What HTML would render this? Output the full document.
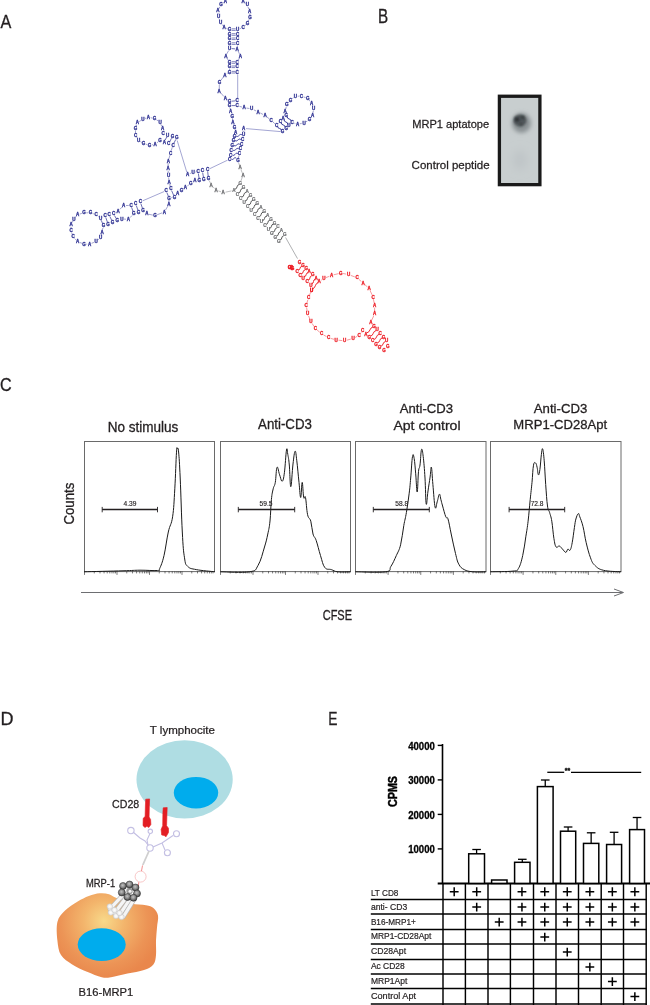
<!DOCTYPE html><html><head><meta charset="utf-8"><style>html,body{margin:0;padding:0;background:#fff;}svg{display:block;will-change:transform;font-family:"Liberation Sans",sans-serif;}</style></head><body><svg width="650" height="1005" viewBox="0 0 650 1005"><text transform="translate(0.60,27.8) scale(0.8538,1)" font-size="19" font-weight="normal" fill="#231f20" stroke="#231f20" stroke-width="0.3">A</text>
<text transform="translate(378.02,22.8) scale(0.7818,1)" font-size="19.5" font-weight="normal" fill="#231f20" stroke="#231f20" stroke-width="0.3">B</text>
<text transform="translate(0.05,390.5) scale(0.8500,1)" font-size="19" font-weight="normal" fill="#231f20" stroke="#231f20" stroke-width="0.3">C</text>
<text transform="translate(0.55,724.9) scale(0.9500,1)" font-size="19" font-weight="normal" fill="#231f20" stroke="#231f20" stroke-width="0.3">D</text>
<text transform="translate(328.17,724.9) scale(0.7273,1)" font-size="19" font-weight="normal" fill="#231f20" stroke="#231f20" stroke-width="0.3">E</text>
<defs><radialGradient id="spot" cx="0.5" cy="0.5" r="0.5"><stop offset="0" stop-color="#2a2c2e"/><stop offset="0.45" stop-color="#3a3d40"/><stop offset="0.75" stop-color="#8c9194"/><stop offset="1" stop-color="#c4c9cb" stop-opacity="0"/></radialGradient></defs>
<defs><filter id="blur2" x="-50%" y="-50%" width="200%" height="200%"><feGaussianBlur stdDeviation="2.2"/></filter><filter id="blur1" x="-50%" y="-50%" width="200%" height="200%"><feGaussianBlur stdDeviation="1.2"/></filter><filter id="blur4" x="-50%" y="-50%" width="200%" height="200%"><feGaussianBlur stdDeviation="4"/></filter></defs>
<rect x="499.4" y="96.25" width="40.5" height="88.4" fill="#c8cecf" stroke="#1a1a1a" stroke-width="3.3"/>
<ellipse cx="520" cy="160" rx="7" ry="10" fill="#bfc5c7" filter="url(#blur4)"/>
<ellipse cx="521.5" cy="123" rx="9.5" ry="10" fill="#899093" filter="url(#blur2)"/>
<ellipse cx="520" cy="120.5" rx="6.5" ry="6" fill="#51575a" filter="url(#blur1)"/>
<circle cx="517" cy="119.5" r="2.3" fill="#2e3335" filter="url(#blur1)"/>
<circle cx="522.5" cy="117.5" r="1.8" fill="#3a3f41" filter="url(#blur1)"/>
<circle cx="521" cy="124" r="1.8" fill="#43484b" filter="url(#blur1)"/>
<text transform="translate(412.20,128.3) scale(1.0079,1)" font-size="11" font-weight="normal" fill="#231f20" stroke="#231f20" stroke-width="0.25">MRP1 aptatope</text>
<text transform="translate(411.60,168.9) scale(1.0480,1)" font-size="11" font-weight="normal" fill="#231f20" stroke="#231f20" stroke-width="0.25">Control peptide</text>
<rect x="84.5" y="441.5" width="130.0" height="130.10000000000002" fill="none" stroke="#6a6a6a" stroke-width="1"/>
<line x1="84.50" y1="571.1" x2="84.50" y2="574.9" stroke="#444" stroke-width="0.7"/>
<line x1="94.28" y1="571.1" x2="94.28" y2="573.4" stroke="#444" stroke-width="0.7"/>
<line x1="100.01" y1="571.1" x2="100.01" y2="573.4" stroke="#444" stroke-width="0.7"/>
<line x1="104.07" y1="571.1" x2="104.07" y2="573.4" stroke="#444" stroke-width="0.7"/>
<line x1="107.22" y1="571.1" x2="107.22" y2="573.4" stroke="#444" stroke-width="0.7"/>
<line x1="109.79" y1="571.1" x2="109.79" y2="573.4" stroke="#444" stroke-width="0.7"/>
<line x1="111.97" y1="571.1" x2="111.97" y2="573.4" stroke="#444" stroke-width="0.7"/>
<line x1="113.85" y1="571.1" x2="113.85" y2="573.4" stroke="#444" stroke-width="0.7"/>
<line x1="115.51" y1="571.1" x2="115.51" y2="573.4" stroke="#444" stroke-width="0.7"/>
<line x1="117.00" y1="571.1" x2="117.00" y2="574.9" stroke="#444" stroke-width="0.7"/>
<line x1="126.78" y1="571.1" x2="126.78" y2="573.4" stroke="#444" stroke-width="0.7"/>
<line x1="132.51" y1="571.1" x2="132.51" y2="573.4" stroke="#444" stroke-width="0.7"/>
<line x1="136.57" y1="571.1" x2="136.57" y2="573.4" stroke="#444" stroke-width="0.7"/>
<line x1="139.72" y1="571.1" x2="139.72" y2="573.4" stroke="#444" stroke-width="0.7"/>
<line x1="142.29" y1="571.1" x2="142.29" y2="573.4" stroke="#444" stroke-width="0.7"/>
<line x1="144.47" y1="571.1" x2="144.47" y2="573.4" stroke="#444" stroke-width="0.7"/>
<line x1="146.35" y1="571.1" x2="146.35" y2="573.4" stroke="#444" stroke-width="0.7"/>
<line x1="148.01" y1="571.1" x2="148.01" y2="573.4" stroke="#444" stroke-width="0.7"/>
<line x1="149.50" y1="571.1" x2="149.50" y2="574.9" stroke="#444" stroke-width="0.7"/>
<line x1="159.28" y1="571.1" x2="159.28" y2="573.4" stroke="#444" stroke-width="0.7"/>
<line x1="165.01" y1="571.1" x2="165.01" y2="573.4" stroke="#444" stroke-width="0.7"/>
<line x1="169.07" y1="571.1" x2="169.07" y2="573.4" stroke="#444" stroke-width="0.7"/>
<line x1="172.22" y1="571.1" x2="172.22" y2="573.4" stroke="#444" stroke-width="0.7"/>
<line x1="174.79" y1="571.1" x2="174.79" y2="573.4" stroke="#444" stroke-width="0.7"/>
<line x1="176.97" y1="571.1" x2="176.97" y2="573.4" stroke="#444" stroke-width="0.7"/>
<line x1="178.85" y1="571.1" x2="178.85" y2="573.4" stroke="#444" stroke-width="0.7"/>
<line x1="180.51" y1="571.1" x2="180.51" y2="573.4" stroke="#444" stroke-width="0.7"/>
<line x1="182.00" y1="571.1" x2="182.00" y2="574.9" stroke="#444" stroke-width="0.7"/>
<line x1="191.78" y1="571.1" x2="191.78" y2="573.4" stroke="#444" stroke-width="0.7"/>
<line x1="197.51" y1="571.1" x2="197.51" y2="573.4" stroke="#444" stroke-width="0.7"/>
<line x1="201.57" y1="571.1" x2="201.57" y2="573.4" stroke="#444" stroke-width="0.7"/>
<line x1="204.72" y1="571.1" x2="204.72" y2="573.4" stroke="#444" stroke-width="0.7"/>
<line x1="207.29" y1="571.1" x2="207.29" y2="573.4" stroke="#444" stroke-width="0.7"/>
<line x1="209.47" y1="571.1" x2="209.47" y2="573.4" stroke="#444" stroke-width="0.7"/>
<line x1="211.35" y1="571.1" x2="211.35" y2="573.4" stroke="#444" stroke-width="0.7"/>
<line x1="213.01" y1="571.1" x2="213.01" y2="573.4" stroke="#444" stroke-width="0.7"/>
<rect x="220.5" y="441.5" width="130.0" height="130.10000000000002" fill="none" stroke="#6a6a6a" stroke-width="1"/>
<line x1="220.50" y1="571.1" x2="220.50" y2="574.9" stroke="#444" stroke-width="0.7"/>
<line x1="230.28" y1="571.1" x2="230.28" y2="573.4" stroke="#444" stroke-width="0.7"/>
<line x1="236.01" y1="571.1" x2="236.01" y2="573.4" stroke="#444" stroke-width="0.7"/>
<line x1="240.07" y1="571.1" x2="240.07" y2="573.4" stroke="#444" stroke-width="0.7"/>
<line x1="243.22" y1="571.1" x2="243.22" y2="573.4" stroke="#444" stroke-width="0.7"/>
<line x1="245.79" y1="571.1" x2="245.79" y2="573.4" stroke="#444" stroke-width="0.7"/>
<line x1="247.97" y1="571.1" x2="247.97" y2="573.4" stroke="#444" stroke-width="0.7"/>
<line x1="249.85" y1="571.1" x2="249.85" y2="573.4" stroke="#444" stroke-width="0.7"/>
<line x1="251.51" y1="571.1" x2="251.51" y2="573.4" stroke="#444" stroke-width="0.7"/>
<line x1="253.00" y1="571.1" x2="253.00" y2="574.9" stroke="#444" stroke-width="0.7"/>
<line x1="262.78" y1="571.1" x2="262.78" y2="573.4" stroke="#444" stroke-width="0.7"/>
<line x1="268.51" y1="571.1" x2="268.51" y2="573.4" stroke="#444" stroke-width="0.7"/>
<line x1="272.57" y1="571.1" x2="272.57" y2="573.4" stroke="#444" stroke-width="0.7"/>
<line x1="275.72" y1="571.1" x2="275.72" y2="573.4" stroke="#444" stroke-width="0.7"/>
<line x1="278.29" y1="571.1" x2="278.29" y2="573.4" stroke="#444" stroke-width="0.7"/>
<line x1="280.47" y1="571.1" x2="280.47" y2="573.4" stroke="#444" stroke-width="0.7"/>
<line x1="282.35" y1="571.1" x2="282.35" y2="573.4" stroke="#444" stroke-width="0.7"/>
<line x1="284.01" y1="571.1" x2="284.01" y2="573.4" stroke="#444" stroke-width="0.7"/>
<line x1="285.50" y1="571.1" x2="285.50" y2="574.9" stroke="#444" stroke-width="0.7"/>
<line x1="295.28" y1="571.1" x2="295.28" y2="573.4" stroke="#444" stroke-width="0.7"/>
<line x1="301.01" y1="571.1" x2="301.01" y2="573.4" stroke="#444" stroke-width="0.7"/>
<line x1="305.07" y1="571.1" x2="305.07" y2="573.4" stroke="#444" stroke-width="0.7"/>
<line x1="308.22" y1="571.1" x2="308.22" y2="573.4" stroke="#444" stroke-width="0.7"/>
<line x1="310.79" y1="571.1" x2="310.79" y2="573.4" stroke="#444" stroke-width="0.7"/>
<line x1="312.97" y1="571.1" x2="312.97" y2="573.4" stroke="#444" stroke-width="0.7"/>
<line x1="314.85" y1="571.1" x2="314.85" y2="573.4" stroke="#444" stroke-width="0.7"/>
<line x1="316.51" y1="571.1" x2="316.51" y2="573.4" stroke="#444" stroke-width="0.7"/>
<line x1="318.00" y1="571.1" x2="318.00" y2="574.9" stroke="#444" stroke-width="0.7"/>
<line x1="327.78" y1="571.1" x2="327.78" y2="573.4" stroke="#444" stroke-width="0.7"/>
<line x1="333.51" y1="571.1" x2="333.51" y2="573.4" stroke="#444" stroke-width="0.7"/>
<line x1="337.57" y1="571.1" x2="337.57" y2="573.4" stroke="#444" stroke-width="0.7"/>
<line x1="340.72" y1="571.1" x2="340.72" y2="573.4" stroke="#444" stroke-width="0.7"/>
<line x1="343.29" y1="571.1" x2="343.29" y2="573.4" stroke="#444" stroke-width="0.7"/>
<line x1="345.47" y1="571.1" x2="345.47" y2="573.4" stroke="#444" stroke-width="0.7"/>
<line x1="347.35" y1="571.1" x2="347.35" y2="573.4" stroke="#444" stroke-width="0.7"/>
<line x1="349.01" y1="571.1" x2="349.01" y2="573.4" stroke="#444" stroke-width="0.7"/>
<rect x="355.5" y="441.5" width="130.5" height="130.10000000000002" fill="none" stroke="#6a6a6a" stroke-width="1"/>
<line x1="355.50" y1="571.1" x2="355.50" y2="574.9" stroke="#444" stroke-width="0.7"/>
<line x1="365.32" y1="571.1" x2="365.32" y2="573.4" stroke="#444" stroke-width="0.7"/>
<line x1="371.07" y1="571.1" x2="371.07" y2="573.4" stroke="#444" stroke-width="0.7"/>
<line x1="375.14" y1="571.1" x2="375.14" y2="573.4" stroke="#444" stroke-width="0.7"/>
<line x1="378.30" y1="571.1" x2="378.30" y2="573.4" stroke="#444" stroke-width="0.7"/>
<line x1="380.89" y1="571.1" x2="380.89" y2="573.4" stroke="#444" stroke-width="0.7"/>
<line x1="383.07" y1="571.1" x2="383.07" y2="573.4" stroke="#444" stroke-width="0.7"/>
<line x1="384.96" y1="571.1" x2="384.96" y2="573.4" stroke="#444" stroke-width="0.7"/>
<line x1="386.63" y1="571.1" x2="386.63" y2="573.4" stroke="#444" stroke-width="0.7"/>
<line x1="388.12" y1="571.1" x2="388.12" y2="574.9" stroke="#444" stroke-width="0.7"/>
<line x1="397.95" y1="571.1" x2="397.95" y2="573.4" stroke="#444" stroke-width="0.7"/>
<line x1="403.69" y1="571.1" x2="403.69" y2="573.4" stroke="#444" stroke-width="0.7"/>
<line x1="407.77" y1="571.1" x2="407.77" y2="573.4" stroke="#444" stroke-width="0.7"/>
<line x1="410.93" y1="571.1" x2="410.93" y2="573.4" stroke="#444" stroke-width="0.7"/>
<line x1="413.51" y1="571.1" x2="413.51" y2="573.4" stroke="#444" stroke-width="0.7"/>
<line x1="415.70" y1="571.1" x2="415.70" y2="573.4" stroke="#444" stroke-width="0.7"/>
<line x1="417.59" y1="571.1" x2="417.59" y2="573.4" stroke="#444" stroke-width="0.7"/>
<line x1="419.26" y1="571.1" x2="419.26" y2="573.4" stroke="#444" stroke-width="0.7"/>
<line x1="420.75" y1="571.1" x2="420.75" y2="574.9" stroke="#444" stroke-width="0.7"/>
<line x1="430.57" y1="571.1" x2="430.57" y2="573.4" stroke="#444" stroke-width="0.7"/>
<line x1="436.32" y1="571.1" x2="436.32" y2="573.4" stroke="#444" stroke-width="0.7"/>
<line x1="440.39" y1="571.1" x2="440.39" y2="573.4" stroke="#444" stroke-width="0.7"/>
<line x1="443.55" y1="571.1" x2="443.55" y2="573.4" stroke="#444" stroke-width="0.7"/>
<line x1="446.14" y1="571.1" x2="446.14" y2="573.4" stroke="#444" stroke-width="0.7"/>
<line x1="448.32" y1="571.1" x2="448.32" y2="573.4" stroke="#444" stroke-width="0.7"/>
<line x1="450.21" y1="571.1" x2="450.21" y2="573.4" stroke="#444" stroke-width="0.7"/>
<line x1="451.88" y1="571.1" x2="451.88" y2="573.4" stroke="#444" stroke-width="0.7"/>
<line x1="453.38" y1="571.1" x2="453.38" y2="574.9" stroke="#444" stroke-width="0.7"/>
<line x1="463.20" y1="571.1" x2="463.20" y2="573.4" stroke="#444" stroke-width="0.7"/>
<line x1="468.94" y1="571.1" x2="468.94" y2="573.4" stroke="#444" stroke-width="0.7"/>
<line x1="473.02" y1="571.1" x2="473.02" y2="573.4" stroke="#444" stroke-width="0.7"/>
<line x1="476.18" y1="571.1" x2="476.18" y2="573.4" stroke="#444" stroke-width="0.7"/>
<line x1="478.76" y1="571.1" x2="478.76" y2="573.4" stroke="#444" stroke-width="0.7"/>
<line x1="480.95" y1="571.1" x2="480.95" y2="573.4" stroke="#444" stroke-width="0.7"/>
<line x1="482.84" y1="571.1" x2="482.84" y2="573.4" stroke="#444" stroke-width="0.7"/>
<line x1="484.51" y1="571.1" x2="484.51" y2="573.4" stroke="#444" stroke-width="0.7"/>
<rect x="490.5" y="441.5" width="130.5" height="130.10000000000002" fill="none" stroke="#6a6a6a" stroke-width="1"/>
<line x1="490.50" y1="571.1" x2="490.50" y2="574.9" stroke="#444" stroke-width="0.7"/>
<line x1="500.32" y1="571.1" x2="500.32" y2="573.4" stroke="#444" stroke-width="0.7"/>
<line x1="506.07" y1="571.1" x2="506.07" y2="573.4" stroke="#444" stroke-width="0.7"/>
<line x1="510.14" y1="571.1" x2="510.14" y2="573.4" stroke="#444" stroke-width="0.7"/>
<line x1="513.30" y1="571.1" x2="513.30" y2="573.4" stroke="#444" stroke-width="0.7"/>
<line x1="515.89" y1="571.1" x2="515.89" y2="573.4" stroke="#444" stroke-width="0.7"/>
<line x1="518.07" y1="571.1" x2="518.07" y2="573.4" stroke="#444" stroke-width="0.7"/>
<line x1="519.96" y1="571.1" x2="519.96" y2="573.4" stroke="#444" stroke-width="0.7"/>
<line x1="521.63" y1="571.1" x2="521.63" y2="573.4" stroke="#444" stroke-width="0.7"/>
<line x1="523.12" y1="571.1" x2="523.12" y2="574.9" stroke="#444" stroke-width="0.7"/>
<line x1="532.95" y1="571.1" x2="532.95" y2="573.4" stroke="#444" stroke-width="0.7"/>
<line x1="538.69" y1="571.1" x2="538.69" y2="573.4" stroke="#444" stroke-width="0.7"/>
<line x1="542.77" y1="571.1" x2="542.77" y2="573.4" stroke="#444" stroke-width="0.7"/>
<line x1="545.93" y1="571.1" x2="545.93" y2="573.4" stroke="#444" stroke-width="0.7"/>
<line x1="548.51" y1="571.1" x2="548.51" y2="573.4" stroke="#444" stroke-width="0.7"/>
<line x1="550.70" y1="571.1" x2="550.70" y2="573.4" stroke="#444" stroke-width="0.7"/>
<line x1="552.59" y1="571.1" x2="552.59" y2="573.4" stroke="#444" stroke-width="0.7"/>
<line x1="554.26" y1="571.1" x2="554.26" y2="573.4" stroke="#444" stroke-width="0.7"/>
<line x1="555.75" y1="571.1" x2="555.75" y2="574.9" stroke="#444" stroke-width="0.7"/>
<line x1="565.57" y1="571.1" x2="565.57" y2="573.4" stroke="#444" stroke-width="0.7"/>
<line x1="571.32" y1="571.1" x2="571.32" y2="573.4" stroke="#444" stroke-width="0.7"/>
<line x1="575.39" y1="571.1" x2="575.39" y2="573.4" stroke="#444" stroke-width="0.7"/>
<line x1="578.55" y1="571.1" x2="578.55" y2="573.4" stroke="#444" stroke-width="0.7"/>
<line x1="581.14" y1="571.1" x2="581.14" y2="573.4" stroke="#444" stroke-width="0.7"/>
<line x1="583.32" y1="571.1" x2="583.32" y2="573.4" stroke="#444" stroke-width="0.7"/>
<line x1="585.21" y1="571.1" x2="585.21" y2="573.4" stroke="#444" stroke-width="0.7"/>
<line x1="586.88" y1="571.1" x2="586.88" y2="573.4" stroke="#444" stroke-width="0.7"/>
<line x1="588.38" y1="571.1" x2="588.38" y2="574.9" stroke="#444" stroke-width="0.7"/>
<line x1="598.20" y1="571.1" x2="598.20" y2="573.4" stroke="#444" stroke-width="0.7"/>
<line x1="603.94" y1="571.1" x2="603.94" y2="573.4" stroke="#444" stroke-width="0.7"/>
<line x1="608.02" y1="571.1" x2="608.02" y2="573.4" stroke="#444" stroke-width="0.7"/>
<line x1="611.18" y1="571.1" x2="611.18" y2="573.4" stroke="#444" stroke-width="0.7"/>
<line x1="613.76" y1="571.1" x2="613.76" y2="573.4" stroke="#444" stroke-width="0.7"/>
<line x1="615.95" y1="571.1" x2="615.95" y2="573.4" stroke="#444" stroke-width="0.7"/>
<line x1="617.84" y1="571.1" x2="617.84" y2="573.4" stroke="#444" stroke-width="0.7"/>
<line x1="619.51" y1="571.1" x2="619.51" y2="573.4" stroke="#444" stroke-width="0.7"/>
<path d="M84,571.8 C91.80,571.60 111.80,571.12 123,570.8 C134.20,570.48 133.10,570.26 140,570.2 C146.90,570.14 153.56,570.84 157.5,570.5 C161.44,570.16 158.40,571.48 159.7,568.5 C161.00,565.52 162.28,562.90 164,555.6 C165.72,548.30 166.58,539.76 168.3,532 C170.02,524.24 171.30,525.44 172.6,516.8 C173.90,508.16 174.02,501.72 174.8,488.8 C175.58,475.88 175.98,460.16 176.5,452.2 C177.02,444.24 176.98,449.04 177.4,449 C177.82,448.96 178.04,446.20 178.6,452 C179.16,457.80 179.46,462.00 180.2,478 C180.94,494.00 181.44,516.04 182.3,532 C183.16,547.96 183.42,550.92 184.5,557.8 C185.58,564.68 185.34,564.04 187.7,566.4 C190.06,568.76 190.84,568.52 196.3,569.6 C201.76,570.68 211.26,571.36 215,571.8" fill="none" stroke="#1a1a1a" stroke-width="1.0" stroke-linejoin="round"/>
<path d="M220.4,571.8 C226.22,571.80 241.96,573.10 249.5,571.8 C257.04,570.50 255.10,570.26 258.1,565.3 C261.10,560.34 262.56,553.26 264.5,547 C266.44,540.74 266.70,539.20 267.8,534 C268.90,528.80 269.28,527.88 270,521 C270.72,514.12 270.76,506.04 271.4,499.6 C272.04,493.16 272.42,492.24 273.2,488.8 C273.98,485.36 274.54,486.70 275.3,482.4 C276.06,478.10 276.14,468.82 277,467.3 C277.86,465.78 278.56,472.00 279.6,474.8 C280.64,477.60 281.24,481.72 282.2,481.3 C283.16,480.88 283.54,478.96 284.4,472.7 C285.26,466.44 285.82,453.66 286.5,450 C287.18,446.34 287.24,451.40 287.8,454.4 C288.36,457.40 288.70,458.54 289.3,465 C289.90,471.46 290.06,486.90 290.8,486.7 C291.54,486.50 292.14,471.10 293,464 C293.86,456.90 294.34,451.84 295.1,451.2 C295.86,450.56 296.02,454.56 296.8,460.8 C297.58,467.04 298.22,475.06 299,482.4 C299.78,489.74 300.06,497.50 300.7,497.5 C301.34,497.50 301.60,482.40 302.2,482.4 C302.80,482.40 303.04,494.48 303.7,497.5 C304.36,500.52 304.72,494.06 305.5,497.5 C306.28,500.94 306.54,509.96 307.6,514.7 C308.66,519.44 309.72,517.34 310.8,521.2 C311.88,525.06 311.92,530.14 313,534 C314.08,537.86 314.70,536.18 316.2,540.5 C317.70,544.82 318.78,550.20 320.5,555.6 C322.22,561.00 322.64,564.70 324.8,567.5 C326.96,570.30 328.70,568.74 331.3,569.6 C333.90,570.46 333.92,571.36 337.8,571.8 C341.68,572.24 348.12,571.80 350.7,571.8" fill="none" stroke="#1a1a1a" stroke-width="1.0" stroke-linejoin="round"/>
<path d="M355.4,571.8 C361.42,571.80 378.40,572.88 385.5,571.8 C392.60,570.72 388.74,569.64 390.9,566.4 C393.06,563.16 394.36,559.92 396.3,555.6 C398.24,551.28 399.10,550.82 400.6,544.8 C402.10,538.78 402.64,531.96 403.8,525.5 C404.96,519.04 405.32,518.96 406.4,512.5 C407.48,506.04 408.34,500.10 409.2,493.2 C410.06,486.30 410.04,485.34 410.7,478 C411.36,470.66 411.80,460.36 412.5,456.5 C413.20,452.64 413.56,455.24 414.2,458.7 C414.84,462.16 415.10,467.14 415.7,473.8 C416.30,480.46 416.64,492.44 417.2,492 C417.76,491.56 417.94,477.00 418.5,471.6 C419.06,466.20 419.40,469.40 420,465 C420.60,460.60 420.86,451.30 421.5,449.6 C422.14,447.90 422.50,450.82 423.2,456.5 C423.90,462.18 424.40,468.50 425,478 C425.60,487.50 425.60,501.40 426.2,504 C426.80,506.60 427.22,496.40 428,491 C428.78,485.60 429.42,481.74 430.1,477 C430.78,472.26 430.84,465.80 431.4,467.3 C431.96,468.80 432.16,476.52 432.9,484.5 C433.64,492.48 434.24,503.74 435.1,507.2 C435.96,510.66 436.34,504.40 437.2,501.8 C438.06,499.20 438.66,494.64 439.4,494.2 C440.14,493.76 440.26,497.24 440.9,499.6 C441.54,501.96 441.62,502.56 442.6,506 C443.58,509.44 444.72,514.20 445.8,516.8 C446.88,519.40 446.92,515.56 448,519 C449.08,522.44 449.70,527.10 451.2,534 C452.70,540.90 453.98,547.46 455.5,553.5 C457.02,559.54 457.06,560.98 458.8,564.2 C460.54,567.42 461.40,568.08 464.2,569.6 C467.00,571.12 468.42,571.36 472.8,571.8 C477.18,572.24 483.44,571.80 486.1,571.8" fill="none" stroke="#1a1a1a" stroke-width="1.0" stroke-linejoin="round"/>
<path d="M490.4,571.8 C494.92,571.66 507.40,571.76 513,571.1 C518.60,570.44 516.46,571.60 518.4,568.5 C520.34,565.40 521.20,562.06 522.7,555.6 C524.20,549.14 524.82,543.08 525.9,536.2 C526.98,529.32 527.24,528.52 528.1,521.2 C528.96,513.88 529.42,507.36 530.2,499.6 C530.98,491.84 531.34,489.28 532,482.4 C532.66,475.52 532.78,469.08 533.5,465.2 C534.22,461.32 534.88,462.58 535.6,463 C536.32,463.42 536.54,464.94 537.1,467.3 C537.66,469.66 537.84,474.36 538.4,474.8 C538.96,475.24 539.30,473.58 539.9,469.5 C540.50,465.42 540.84,458.50 541.4,454.4 C541.96,450.30 542.14,447.72 542.7,449 C543.26,450.28 543.60,453.70 544.2,460.8 C544.80,467.90 545.04,475.46 545.7,484.5 C546.36,493.54 546.72,500.40 547.5,506 C548.28,511.60 548.74,509.46 549.6,512.5 C550.46,515.54 550.94,516.02 551.8,521.2 C552.66,526.38 553.04,533.24 553.9,538.4 C554.76,543.56 555.02,545.48 556.1,547 C557.18,548.52 558.02,545.58 559.3,546 C560.58,546.42 561.20,547.82 562.5,549.1 C563.80,550.38 564.72,552.40 565.8,552.4 C566.88,552.40 567.04,549.54 567.9,549.1 C568.76,548.66 569.24,551.48 570.1,550.2 C570.96,548.92 571.34,547.22 572.2,542.7 C573.06,538.18 573.66,532.34 574.4,527.6 C575.14,522.86 575.12,521.80 575.9,519 C576.68,516.20 577.52,514.04 578.3,513.6 C579.08,513.16 578.86,514.22 579.8,516.8 C580.74,519.38 581.72,521.32 583,526.5 C584.28,531.68 584.70,536.44 586.2,542.7 C587.70,548.96 588.78,553.28 590.5,557.8 C592.22,562.32 592.20,562.80 594.8,565.3 C597.40,567.80 598.24,569.00 603.5,570.3 C608.76,571.60 617.58,571.50 621.1,571.8" fill="none" stroke="#1a1a1a" stroke-width="1.0" stroke-linejoin="round"/>
<line x1="102.2" y1="509.6" x2="157.5" y2="509.6" stroke="#231f20" stroke-width="1.5"/>
<line x1="102.2" y1="506.90000000000003" x2="102.2" y2="512.3000000000001" stroke="#231f20" stroke-width="0.9"/>
<line x1="157.5" y1="506.90000000000003" x2="157.5" y2="512.3000000000001" stroke="#231f20" stroke-width="0.9"/>
<text x="130" y="505.7" font-size="6.6" text-anchor="middle" font-weight="normal" fill="#231f20" stroke="#231f20" stroke-width="0.15" >4.39</text>
<line x1="238.3" y1="509.6" x2="294.7" y2="509.6" stroke="#231f20" stroke-width="1.5"/>
<line x1="238.3" y1="506.90000000000003" x2="238.3" y2="512.3000000000001" stroke="#231f20" stroke-width="0.9"/>
<line x1="294.7" y1="506.90000000000003" x2="294.7" y2="512.3000000000001" stroke="#231f20" stroke-width="0.9"/>
<text x="266" y="505.7" font-size="6.6" text-anchor="middle" font-weight="normal" fill="#231f20" stroke="#231f20" stroke-width="0.15" >59.5</text>
<line x1="373.3" y1="509.6" x2="429.3" y2="509.6" stroke="#231f20" stroke-width="1.5"/>
<line x1="373.3" y1="506.90000000000003" x2="373.3" y2="512.3000000000001" stroke="#231f20" stroke-width="0.9"/>
<line x1="429.3" y1="506.90000000000003" x2="429.3" y2="512.3000000000001" stroke="#231f20" stroke-width="0.9"/>
<text x="401.7" y="505.7" font-size="6.6" text-anchor="middle" font-weight="normal" fill="#231f20" stroke="#231f20" stroke-width="0.15" >58.8</text>
<line x1="509.1" y1="509.6" x2="564.7" y2="509.6" stroke="#231f20" stroke-width="1.5"/>
<line x1="509.1" y1="506.90000000000003" x2="509.1" y2="512.3000000000001" stroke="#231f20" stroke-width="0.9"/>
<line x1="564.7" y1="506.90000000000003" x2="564.7" y2="512.3000000000001" stroke="#231f20" stroke-width="0.9"/>
<text x="537.1" y="505.7" font-size="6.6" text-anchor="middle" font-weight="normal" fill="#231f20" stroke="#231f20" stroke-width="0.15" >72.8</text>
<text transform="translate(107.63,432.2) scale(0.9681,1)" font-size="14" font-weight="normal" fill="#231f20" stroke="#231f20" stroke-width="0.3">No stimulus</text>
<text transform="translate(258.10,429.4) scale(0.9491,1)" font-size="14" font-weight="normal" fill="#231f20" stroke="#231f20" stroke-width="0.3">Anti-CD3</text>
<text transform="translate(399.80,412.8) scale(0.9727,1)" font-size="13.5" font-weight="normal" fill="#231f20" stroke="#231f20" stroke-width="0.3">Anti-CD3</text>
<text transform="translate(393.40,429.8) scale(1.0422,1)" font-size="13.5" font-weight="normal" fill="#231f20" stroke="#231f20" stroke-width="0.3">Apt control</text>
<text transform="translate(533.80,412.5) scale(0.9782,1)" font-size="13.5" font-weight="normal" fill="#231f20" stroke="#231f20" stroke-width="0.3">Anti-CD3</text>
<text transform="translate(513.33,428.8) scale(0.9698,1)" font-size="13.5" font-weight="normal" fill="#231f20" stroke="#231f20" stroke-width="0.3">MRP1-CD28Apt</text>
<text transform="translate(322.70,620) scale(0.7865,1)" font-size="14" font-weight="normal" fill="#231f20" stroke="#231f20" stroke-width="0.3">CFSE</text>
<text transform="translate(74.2,524.50) rotate(-90) scale(0.9432,1)" font-size="14" font-weight="normal" fill="#231f20" stroke="#231f20" stroke-width="0.3">Counts</text>
<line x1="81" y1="592.5" x2="623" y2="592.5" stroke="#6d6e71" stroke-width="1"/>
<path d="M614,589 L623.5,592.5 L614,596" fill="none" stroke="#6d6e71" stroke-width="1"/>
<defs><radialGradient id="org" cx="0.52" cy="0.3" r="0.7"><stop offset="0" stop-color="#f9dc8e"/><stop offset="0.45" stop-color="#f2b26a"/><stop offset="1" stop-color="#e9884a"/></radialGradient></defs>
<ellipse cx="184.6" cy="779.4" rx="48.1" ry="39.2" fill="#afdde3"/>
<ellipse cx="196" cy="792.7" rx="22.2" ry="15.8" fill="#00aced"/>
<text transform="translate(149.80,734.1) scale(0.9954,1)" font-size="11.6" font-weight="normal" fill="#231f20" stroke="#231f20" stroke-width="0.25">T lymphocite</text>
<text transform="translate(112.10,808.2) scale(0.9679,1)" font-size="11" font-weight="normal" fill="#231f20" stroke="#231f20" stroke-width="0.25">CD28</text>
<path d="M145.7,799.2 L149.6,798.9 L149.3,808 L149.1,817 L150.6,819.5 L150.9,824.5 L148.8,827.5 L146.9,826.3 L145,827.5 L143,825.7 L143.2,818.3 L145.1,816.5 L145.4,806 Z" fill="#e31e24" stroke="#e31e24" stroke-width="0.6" stroke-linejoin="round"/>
<path d="M163.2,807.8 L167.2,807.5 L166.9,816 L166.6,825.7 L168.5,828.2 L168.5,832.5 L166,836.8 L164.2,835.5 L161.7,835 L161.1,829.4 L162.7,825.7 L162.9,812.2 Z" fill="#e31e24" stroke="#e31e24" stroke-width="0.6" stroke-linejoin="round"/>
<g fill="none" stroke="#c3bfe3" stroke-width="1.1"><circle cx="130.9" cy="830.6" r="3.2"/><circle cx="150.3" cy="831.3" r="2.2"/><circle cx="176.5" cy="833.7" r="3"/><circle cx="167.4" cy="852.8" r="3"/><circle cx="150" cy="848" r="3.2"/><path d="M133,832 L140,838 L145,841 L148,845"/><path d="M150,833.5 L147,840 L148,845"/><path d="M153,847 L162,843 L173,835.5"/><path d="M162,843 L165,850"/></g>
<line x1="149" y1="851" x2="142.8" y2="865" stroke="#cfcfcf" stroke-width="1.8"/>
<circle cx="140.6" cy="876.6" r="5.5" fill="none" stroke="#f4a3a3" stroke-width="0.6"/><path d="M142.5,865.5 L141.5,871 M138.8,882.2 L138.3,886.8" stroke="#f08080" stroke-width="0.9"/>
<defs><radialGradient id="org2" gradientUnits="userSpaceOnUse" cx="104" cy="921" r="58"><stop offset="0" stop-color="#f8d98a"/><stop offset="0.35" stop-color="#f3b56c"/><stop offset="0.75" stop-color="#ec9456"/><stop offset="1" stop-color="#e9874c"/></radialGradient><radialGradient id="ball" cx="0.45" cy="0.4" r="0.6"><stop offset="0" stop-color="#c4c4c4"/><stop offset="0.55" stop-color="#858585"/><stop offset="1" stop-color="#3d3d3d"/></radialGradient><radialGradient id="wball" cx="0.5" cy="0.5" r="0.5"><stop offset="0" stop-color="#ffffff"/><stop offset="0.7" stop-color="#ececec"/><stop offset="1" stop-color="#cfcfcf"/></radialGradient></defs>
<path d="M57.4,922.0 C58.6,917.1 61.4,914.2 64.8,910.8 C68.2,907.4 73.7,904.1 77.7,901.6 C81.7,899.1 85.1,897.4 88.8,896.0 C92.5,894.6 96.4,893.6 99.8,893.3 C103.2,893.0 106.2,893.4 109.0,894.2 C111.8,895.0 112.8,896.5 116.5,898.0 C120.2,899.5 126.3,902.3 131.2,903.5 C136.1,904.7 142.3,904.5 146.0,905.3 C149.7,906.0 151.4,906.3 153.4,908.0 C155.4,909.7 157.4,912.2 158.0,915.5 C158.6,918.8 157.3,923.4 157.0,927.5 C156.7,931.6 156.2,935.8 156.0,940.4 C155.8,945.0 156.4,951.0 156.0,955.0 C155.6,959.0 155.4,961.9 153.4,964.4 C151.4,966.9 148.3,968.5 144.0,970.0 C139.7,971.5 133.0,972.4 127.5,973.6 C122.0,974.8 115.3,976.7 111.0,977.3 C106.7,977.9 105.7,978.2 101.7,977.3 C97.7,976.4 91.9,973.9 87.0,971.8 C82.1,969.6 76.5,967.2 72.2,964.4 C67.9,961.6 63.5,959.0 61.0,955.0 C58.5,951.0 58.0,945.9 57.4,940.4 C56.8,934.9 56.2,926.9 57.4,922.0 Z" fill="url(#org2)"/>
<ellipse cx="101.7" cy="944.6" rx="24" ry="16.3" fill="#00aced"/>
<line x1="122" y1="896" x2="110" y2="909" stroke="#b9b9b9" stroke-width="4.6" stroke-linecap="round"/>
<line x1="122" y1="896" x2="110" y2="909" stroke="#f5f5f5" stroke-width="3.3" stroke-linecap="round"/>
<line x1="126" y1="898" x2="114.5" y2="913" stroke="#b9b9b9" stroke-width="4.6" stroke-linecap="round"/>
<line x1="126" y1="898" x2="114.5" y2="913" stroke="#f5f5f5" stroke-width="3.3" stroke-linecap="round"/>
<line x1="130" y1="899.5" x2="119" y2="915.5" stroke="#b9b9b9" stroke-width="4.6" stroke-linecap="round"/>
<line x1="130" y1="899.5" x2="119" y2="915.5" stroke="#f5f5f5" stroke-width="3.3" stroke-linecap="round"/>
<line x1="134" y1="899.5" x2="123.5" y2="916.5" stroke="#b9b9b9" stroke-width="4.6" stroke-linecap="round"/>
<line x1="134" y1="899.5" x2="123.5" y2="916.5" stroke="#f5f5f5" stroke-width="3.3" stroke-linecap="round"/>
<g fill="url(#wball)" stroke="#d0d0d0" stroke-width="0.4">
<circle cx="109.8" cy="906.5" r="2.8"/>
<circle cx="110.8" cy="912.5" r="2.8"/>
<circle cx="116" cy="916" r="2.8"/>
<circle cx="121.5" cy="917" r="2.8"/>
<circle cx="114.5" cy="910" r="2.8"/>
<circle cx="119.5" cy="913" r="2.8"/>
</g>
<circle cx="129.5" cy="891" r="3.2" fill="#9a9a9a"/>
<g fill="url(#ball)" stroke="#262626" stroke-width="0.5">
<circle cx="123" cy="886" r="3.5"/>
<circle cx="129.5" cy="884.5" r="3.5"/>
<circle cx="135.5" cy="887.5" r="3.5"/>
<circle cx="121.8" cy="892.5" r="3.5"/>
<circle cx="137" cy="893.5" r="3.5"/>
<circle cx="127.5" cy="897" r="3.5"/>
<circle cx="133.5" cy="897.8" r="3.5"/>
</g>
<circle cx="130" cy="891.2" r="1.5" fill="#f4f4f4"/>
<text transform="translate(86.00,886.6) scale(0.8939,1)" font-size="10.5" font-weight="normal" fill="#231f20" stroke="#231f20" stroke-width="0.25">MRP-1</text>
<text transform="translate(78.54,995.8) scale(0.9643,1)" font-size="11.6" font-weight="normal" fill="#231f20" stroke="#231f20" stroke-width="0.25">B16-MRP1</text>
<line x1="442.5" y1="744" x2="442.5" y2="883.4" stroke="#000" stroke-width="1.6"/>
<line x1="437.7" y1="848.90" x2="442.5" y2="848.90" stroke="#000" stroke-width="1.4"/>
<line x1="437.7" y1="814.40" x2="442.5" y2="814.40" stroke="#000" stroke-width="1.4"/>
<line x1="437.7" y1="779.90" x2="442.5" y2="779.90" stroke="#000" stroke-width="1.4"/>
<line x1="437.7" y1="745.40" x2="442.5" y2="745.40" stroke="#000" stroke-width="1.4"/>
<text transform="translate(408.20,749.9) scale(0.9207,1)" font-size="10.4" font-weight="bold" fill="#000" stroke="#000" stroke-width="0.3">40000</text>
<text transform="translate(408.20,784.4) scale(0.9207,1)" font-size="10.4" font-weight="bold" fill="#000" stroke="#000" stroke-width="0.3">30000</text>
<text transform="translate(408.20,818.9) scale(0.9207,1)" font-size="10.4" font-weight="bold" fill="#000" stroke="#000" stroke-width="0.3">20000</text>
<text transform="translate(408.20,853.4) scale(0.9207,1)" font-size="10.4" font-weight="bold" fill="#000" stroke="#000" stroke-width="0.3">10000</text>
<text transform="translate(396.6,807.00) rotate(-90) scale(0.8971,1)" font-size="12" font-weight="bold" fill="#000" stroke="#000" stroke-width="0.45">CPMS</text>
<line x1="437.7" y1="883.4" x2="650" y2="883.4" stroke="#000" stroke-width="2"/>
<rect x="468.7" y="853.8" width="15.800000000000011" height="29.600000000000023" fill="#fff" stroke="#000" stroke-width="1.5"/>
<line x1="476.6" y1="853.8" x2="476.6" y2="849.5" stroke="#000" stroke-width="1.3"/>
<line x1="472.3" y1="849.5" x2="480.90000000000003" y2="849.5" stroke="#000" stroke-width="1.3"/>
<rect x="491.6" y="880" width="15.399999999999977" height="3.3999999999999773" fill="#fff" stroke="#000" stroke-width="1.5"/>
<rect x="514.6" y="862.3" width="15.399999999999977" height="21.100000000000023" fill="#fff" stroke="#000" stroke-width="1.5"/>
<line x1="522.3" y1="862.3" x2="522.3" y2="859.3" stroke="#000" stroke-width="1.3"/>
<line x1="518.0" y1="859.3" x2="526.5999999999999" y2="859.3" stroke="#000" stroke-width="1.3"/>
<rect x="537.4" y="786.6" width="15.700000000000045" height="96.79999999999995" fill="#fff" stroke="#000" stroke-width="1.5"/>
<line x1="545.25" y1="786.6" x2="545.25" y2="780" stroke="#000" stroke-width="1.3"/>
<line x1="540.95" y1="780" x2="549.55" y2="780" stroke="#000" stroke-width="1.3"/>
<rect x="560.5" y="831.2" width="15.200000000000045" height="52.19999999999993" fill="#fff" stroke="#000" stroke-width="1.5"/>
<line x1="568.1" y1="831.2" x2="568.1" y2="827" stroke="#000" stroke-width="1.3"/>
<line x1="563.8000000000001" y1="827" x2="572.4" y2="827" stroke="#000" stroke-width="1.3"/>
<rect x="583.5" y="843.4" width="15.299999999999955" height="40.0" fill="#fff" stroke="#000" stroke-width="1.5"/>
<line x1="591.15" y1="843.4" x2="591.15" y2="832.8" stroke="#000" stroke-width="1.3"/>
<line x1="586.85" y1="832.8" x2="595.4499999999999" y2="832.8" stroke="#000" stroke-width="1.3"/>
<rect x="606.6" y="844.5" width="15.0" height="38.89999999999998" fill="#fff" stroke="#000" stroke-width="1.5"/>
<line x1="614.1" y1="844.5" x2="614.1" y2="832.3" stroke="#000" stroke-width="1.3"/>
<line x1="609.8000000000001" y1="832.3" x2="618.4" y2="832.3" stroke="#000" stroke-width="1.3"/>
<rect x="629.6" y="829.6" width="14.899999999999977" height="53.799999999999955" fill="#fff" stroke="#000" stroke-width="1.5"/>
<line x1="637.05" y1="829.6" x2="637.05" y2="817.5" stroke="#000" stroke-width="1.3"/>
<line x1="632.75" y1="817.5" x2="641.3499999999999" y2="817.5" stroke="#000" stroke-width="1.3"/>
<line x1="547.3" y1="772.3" x2="564.2" y2="772.3" stroke="#000" stroke-width="1.3"/>
<line x1="571" y1="772.3" x2="641.2" y2="772.3" stroke="#000" stroke-width="1.3"/>
<text x="567.5" y="773" font-size="7" text-anchor="middle" font-weight="bold" fill="#000" stroke="#000" stroke-width="0.3" >**</text>
<line x1="370.8" y1="899.5" x2="646.5" y2="899.5" stroke="#000" stroke-width="1.45"/>
<line x1="370.8" y1="914.0" x2="646.5" y2="914.0" stroke="#000" stroke-width="1.45"/>
<line x1="370.8" y1="929.5" x2="646.5" y2="929.5" stroke="#000" stroke-width="1.45"/>
<line x1="370.8" y1="944.0" x2="646.5" y2="944.0" stroke="#000" stroke-width="1.45"/>
<line x1="370.8" y1="959.5" x2="646.5" y2="959.5" stroke="#000" stroke-width="1.45"/>
<line x1="370.8" y1="974.0" x2="646.5" y2="974.0" stroke="#000" stroke-width="1.45"/>
<line x1="370.8" y1="988.5" x2="646.5" y2="988.5" stroke="#000" stroke-width="1.45"/>
<line x1="370.8" y1="1004.0" x2="646.5" y2="1004.0" stroke="#000" stroke-width="1.45"/>
<line x1="443" y1="883.4" x2="443" y2="1005" stroke="#000" stroke-width="1.45"/>
<line x1="465.4" y1="883.4" x2="465.4" y2="1005" stroke="#000" stroke-width="1.45"/>
<line x1="488" y1="883.4" x2="488" y2="1005" stroke="#000" stroke-width="1.45"/>
<line x1="510.4" y1="883.4" x2="510.4" y2="1005" stroke="#000" stroke-width="1.45"/>
<line x1="533.5" y1="883.4" x2="533.5" y2="1005" stroke="#000" stroke-width="1.45"/>
<line x1="556" y1="883.4" x2="556" y2="1005" stroke="#000" stroke-width="1.45"/>
<line x1="578.5" y1="883.4" x2="578.5" y2="1005" stroke="#000" stroke-width="1.45"/>
<line x1="601.2" y1="883.4" x2="601.2" y2="1005" stroke="#000" stroke-width="1.45"/>
<line x1="623.5" y1="883.4" x2="623.5" y2="1005" stroke="#000" stroke-width="1.45"/>
<line x1="646.2" y1="883.4" x2="646.2" y2="1005" stroke="#000" stroke-width="1.45"/>
<text transform="translate(370.90,895.75) scale(0.9033,1)" font-size="9.1" font-weight="normal" fill="#231f20" stroke="#231f20" stroke-width="0.2">LT CD8</text>
<text transform="translate(370.90,910.2) scale(0.9447,1)" font-size="9.1" font-weight="normal" fill="#231f20" stroke="#231f20" stroke-width="0.2">anti- CD3</text>
<text transform="translate(370.90,924.6) scale(0.9020,1)" font-size="9.1" font-weight="normal" fill="#231f20" stroke="#231f20" stroke-width="0.2">B16-MRP1+</text>
<text transform="translate(370.90,938.8) scale(0.9273,1)" font-size="9.1" font-weight="normal" fill="#231f20" stroke="#231f20" stroke-width="0.2">MRP1-CD28Apt</text>
<text transform="translate(370.90,953.5) scale(0.9541,1)" font-size="9.1" font-weight="normal" fill="#231f20" stroke="#231f20" stroke-width="0.2">CD28Apt</text>
<text transform="translate(370.90,968.6) scale(0.9306,1)" font-size="9.1" font-weight="normal" fill="#231f20" stroke="#231f20" stroke-width="0.2">Ac CD28</text>
<text transform="translate(370.90,983.7) scale(0.9385,1)" font-size="9.1" font-weight="normal" fill="#231f20" stroke="#231f20" stroke-width="0.2">MRP1Apt</text>
<text transform="translate(370.90,998.5) scale(1.0044,1)" font-size="9.1" font-weight="normal" fill="#231f20" stroke="#231f20" stroke-width="0.2">Control Apt</text>
<path d="M449.80,891.75 H458.60 M454.20,887.35 V896.15" stroke="#000" stroke-width="1.5"/>
<path d="M472.30,891.75 H481.10 M476.70,887.35 V896.15" stroke="#000" stroke-width="1.5"/>
<path d="M517.55,891.75 H526.35 M521.95,887.35 V896.15" stroke="#000" stroke-width="1.5"/>
<path d="M540.35,891.75 H549.15 M544.75,887.35 V896.15" stroke="#000" stroke-width="1.5"/>
<path d="M562.85,891.75 H571.65 M567.25,887.35 V896.15" stroke="#000" stroke-width="1.5"/>
<path d="M585.45,891.75 H594.25 M589.85,887.35 V896.15" stroke="#000" stroke-width="1.5"/>
<path d="M607.95,891.75 H616.75 M612.35,887.35 V896.15" stroke="#000" stroke-width="1.5"/>
<path d="M630.45,891.75 H639.25 M634.85,887.35 V896.15" stroke="#000" stroke-width="1.5"/>
<path d="M472.30,907.05 H481.10 M476.70,902.65 V911.45" stroke="#000" stroke-width="1.5"/>
<path d="M517.55,907.05 H526.35 M521.95,902.65 V911.45" stroke="#000" stroke-width="1.5"/>
<path d="M540.35,907.05 H549.15 M544.75,902.65 V911.45" stroke="#000" stroke-width="1.5"/>
<path d="M562.85,907.05 H571.65 M567.25,902.65 V911.45" stroke="#000" stroke-width="1.5"/>
<path d="M585.45,907.05 H594.25 M589.85,902.65 V911.45" stroke="#000" stroke-width="1.5"/>
<path d="M607.95,907.05 H616.75 M612.35,902.65 V911.45" stroke="#000" stroke-width="1.5"/>
<path d="M630.45,907.05 H639.25 M634.85,902.65 V911.45" stroke="#000" stroke-width="1.5"/>
<path d="M494.80,922.05 H503.60 M499.20,917.65 V926.45" stroke="#000" stroke-width="1.5"/>
<path d="M517.55,922.05 H526.35 M521.95,917.65 V926.45" stroke="#000" stroke-width="1.5"/>
<path d="M540.35,922.05 H549.15 M544.75,917.65 V926.45" stroke="#000" stroke-width="1.5"/>
<path d="M562.85,922.05 H571.65 M567.25,917.65 V926.45" stroke="#000" stroke-width="1.5"/>
<path d="M585.45,922.05 H594.25 M589.85,917.65 V926.45" stroke="#000" stroke-width="1.5"/>
<path d="M607.95,922.05 H616.75 M612.35,917.65 V926.45" stroke="#000" stroke-width="1.5"/>
<path d="M630.45,922.05 H639.25 M634.85,917.65 V926.45" stroke="#000" stroke-width="1.5"/>
<path d="M540.35,937.05 H549.15 M544.75,932.65 V941.45" stroke="#000" stroke-width="1.5"/>
<path d="M562.85,952.05 H571.65 M567.25,947.65 V956.45" stroke="#000" stroke-width="1.5"/>
<path d="M585.45,967.05 H594.25 M589.85,962.65 V971.45" stroke="#000" stroke-width="1.5"/>
<path d="M607.95,981.55 H616.75 M612.35,977.15 V985.95" stroke="#000" stroke-width="1.5"/>
<path d="M630.45,996.55 H639.25 M634.85,992.15 V1000.95" stroke="#000" stroke-width="1.5"/>
<path d="M233.8,125.2L233.5,124.5M232.6,120.0L232.5,118.7M230.3,109.2L230.0,107.9M227.8,99.9L227.1,99.5M223.8,96.4L220.7,92.8M219.3,88.8L219.3,84.8M220.7,80.6L223.5,76.8M226.8,73.8L227.6,73.3M229.6,69.9L229.6,69.1M228.4,60.5L227.0,58.0M226.8,53.9L228.6,50.6M227.5,28.8L226.3,28.3M222.8,25.7L221.9,24.4M219.8,20.4L219.2,18.9M218.2,14.4L218.1,13.1M218.9,8.8L219.9,6.8M222.7,3.3L223.6,2.6" stroke="#2e3192" stroke-width="0.45" fill="none"/>
<text x="229.6" y="160.8" fill="#2e3192" stroke="#2e3192" stroke-width="0.3" font-size="4.5" font-weight="bold" text-anchor="middle">C</text>
<text x="230.7" y="157.0" fill="#2e3192" stroke="#2e3192" stroke-width="0.3" font-size="4.5" font-weight="bold" text-anchor="middle">C</text>
<text x="231.2" y="152.1" fill="#2e3192" stroke="#2e3192" stroke-width="0.3" font-size="4.5" font-weight="bold" text-anchor="middle">C</text>
<text x="232.3" y="147.3" fill="#2e3192" stroke="#2e3192" stroke-width="0.3" font-size="4.5" font-weight="bold" text-anchor="middle">G</text>
<text x="233.4" y="142.4" fill="#2e3192" stroke="#2e3192" stroke-width="0.3" font-size="4.5" font-weight="bold" text-anchor="middle">G</text>
<text x="234.5" y="138.1" fill="#2e3192" stroke="#2e3192" stroke-width="0.3" font-size="4.5" font-weight="bold" text-anchor="middle">G</text>
<text x="235.5" y="133.8" fill="#2e3192" stroke="#2e3192" stroke-width="0.3" font-size="4.5" font-weight="bold" text-anchor="middle">A</text>
<text x="234.5" y="129.0" fill="#2e3192" stroke="#2e3192" stroke-width="0.3" font-size="4.5" font-weight="bold" text-anchor="middle">G</text>
<text x="232.8" y="123.9" fill="#2e3192" stroke="#2e3192" stroke-width="0.3" font-size="4.5" font-weight="bold" text-anchor="middle">A</text>
<text x="232.3" y="118.0" fill="#2e3192" stroke="#2e3192" stroke-width="0.3" font-size="4.5" font-weight="bold" text-anchor="middle">G</text>
<text x="230.7" y="113.1" fill="#2e3192" stroke="#2e3192" stroke-width="0.3" font-size="4.5" font-weight="bold" text-anchor="middle">A</text>
<text x="229.6" y="107.2" fill="#2e3192" stroke="#2e3192" stroke-width="0.3" font-size="4.5" font-weight="bold" text-anchor="middle">G</text>
<text x="229.6" y="102.9" fill="#2e3192" stroke="#2e3192" stroke-width="0.3" font-size="4.5" font-weight="bold" text-anchor="middle">G</text>
<text x="225.3" y="99.7" fill="#2e3192" stroke="#2e3192" stroke-width="0.3" font-size="4.5" font-weight="bold" text-anchor="middle">A</text>
<text x="219.2" y="92.7" fill="#2e3192" stroke="#2e3192" stroke-width="0.3" font-size="4.5" font-weight="bold" text-anchor="middle">A</text>
<text x="219.4" y="84.1" fill="#2e3192" stroke="#2e3192" stroke-width="0.3" font-size="4.5" font-weight="bold" text-anchor="middle">G</text>
<text x="224.8" y="76.5" fill="#2e3192" stroke="#2e3192" stroke-width="0.3" font-size="4.5" font-weight="bold" text-anchor="middle">A</text>
<text x="229.6" y="73.8" fill="#2e3192" stroke="#2e3192" stroke-width="0.3" font-size="4.5" font-weight="bold" text-anchor="middle">G</text>
<text x="229.6" y="68.4" fill="#2e3192" stroke="#2e3192" stroke-width="0.3" font-size="4.5" font-weight="bold" text-anchor="middle">G</text>
<text x="229.6" y="64.1" fill="#2e3192" stroke="#2e3192" stroke-width="0.3" font-size="4.5" font-weight="bold" text-anchor="middle">G</text>
<text x="225.8" y="57.6" fill="#2e3192" stroke="#2e3192" stroke-width="0.3" font-size="4.5" font-weight="bold" text-anchor="middle">A</text>
<text x="229.6" y="50.1" fill="#2e3192" stroke="#2e3192" stroke-width="0.3" font-size="4.5" font-weight="bold" text-anchor="middle">U</text>
<text x="229.6" y="45.2" fill="#2e3192" stroke="#2e3192" stroke-width="0.3" font-size="4.5" font-weight="bold" text-anchor="middle">G</text>
<text x="229.6" y="40.4" fill="#2e3192" stroke="#2e3192" stroke-width="0.3" font-size="4.5" font-weight="bold" text-anchor="middle">G</text>
<text x="229.6" y="36.1" fill="#2e3192" stroke="#2e3192" stroke-width="0.3" font-size="4.5" font-weight="bold" text-anchor="middle">G</text>
<text x="229.6" y="31.2" fill="#2e3192" stroke="#2e3192" stroke-width="0.3" font-size="4.5" font-weight="bold" text-anchor="middle">G</text>
<text x="224.2" y="29.1" fill="#2e3192" stroke="#2e3192" stroke-width="0.3" font-size="4.5" font-weight="bold" text-anchor="middle">A</text>
<text x="220.5" y="24.2" fill="#2e3192" stroke="#2e3192" stroke-width="0.3" font-size="4.5" font-weight="bold" text-anchor="middle">U</text>
<text x="218.5" y="18.3" fill="#2e3192" stroke="#2e3192" stroke-width="0.3" font-size="4.5" font-weight="bold" text-anchor="middle">U</text>
<text x="217.8" y="12.4" fill="#2e3192" stroke="#2e3192" stroke-width="0.3" font-size="4.5" font-weight="bold" text-anchor="middle">A</text>
<text x="221.0" y="6.4" fill="#2e3192" stroke="#2e3192" stroke-width="0.3" font-size="4.5" font-weight="bold" text-anchor="middle">G</text>
<text x="225.3" y="2.7" fill="#2e3192" stroke="#2e3192" stroke-width="0.3" font-size="4.5" font-weight="bold" text-anchor="middle">A</text>
<path d="M244.8,2.6L245.6,3.3M248.1,7.0L248.8,9.1M249.7,13.6L249.8,14.9M249.1,19.3L248.3,21.1M245.8,24.8L244.6,25.9M240.9,28.3L239.8,28.8M237.5,45.9L237.4,46.7M238.2,51.1L239.4,53.9M239.4,58.1L238.2,60.4M237.2,69.1L237.2,69.9" stroke="#2e3192" stroke-width="0.45" fill="none"/>
<text x="243.0" y="2.7" fill="#2e3192" stroke="#2e3192" stroke-width="0.3" font-size="4.5" font-weight="bold" text-anchor="middle">A</text>
<text x="247.4" y="6.4" fill="#2e3192" stroke="#2e3192" stroke-width="0.3" font-size="4.5" font-weight="bold" text-anchor="middle">U</text>
<text x="249.5" y="12.9" fill="#2e3192" stroke="#2e3192" stroke-width="0.3" font-size="4.5" font-weight="bold" text-anchor="middle">A</text>
<text x="250.0" y="18.8" fill="#2e3192" stroke="#2e3192" stroke-width="0.3" font-size="4.5" font-weight="bold" text-anchor="middle">G</text>
<text x="247.4" y="24.8" fill="#2e3192" stroke="#2e3192" stroke-width="0.3" font-size="4.5" font-weight="bold" text-anchor="middle">G</text>
<text x="243.0" y="29.1" fill="#2e3192" stroke="#2e3192" stroke-width="0.3" font-size="4.5" font-weight="bold" text-anchor="middle">C</text>
<text x="237.7" y="31.2" fill="#2e3192" stroke="#2e3192" stroke-width="0.3" font-size="4.5" font-weight="bold" text-anchor="middle">U</text>
<text x="237.7" y="36.1" fill="#2e3192" stroke="#2e3192" stroke-width="0.3" font-size="4.5" font-weight="bold" text-anchor="middle">C</text>
<text x="237.7" y="40.4" fill="#2e3192" stroke="#2e3192" stroke-width="0.3" font-size="4.5" font-weight="bold" text-anchor="middle">C</text>
<text x="237.7" y="45.2" fill="#2e3192" stroke="#2e3192" stroke-width="0.3" font-size="4.5" font-weight="bold" text-anchor="middle">C</text>
<text x="237.2" y="50.6" fill="#2e3192" stroke="#2e3192" stroke-width="0.3" font-size="4.5" font-weight="bold" text-anchor="middle">A</text>
<text x="240.4" y="57.6" fill="#2e3192" stroke="#2e3192" stroke-width="0.3" font-size="4.5" font-weight="bold" text-anchor="middle">A</text>
<text x="237.2" y="64.1" fill="#2e3192" stroke="#2e3192" stroke-width="0.3" font-size="4.5" font-weight="bold" text-anchor="middle">C</text>
<text x="237.2" y="68.4" fill="#2e3192" stroke="#2e3192" stroke-width="0.3" font-size="4.5" font-weight="bold" text-anchor="middle">C</text>
<text x="237.2" y="73.8" fill="#2e3192" stroke="#2e3192" stroke-width="0.3" font-size="4.5" font-weight="bold" text-anchor="middle">C</text>
<line x1="237.7" y1="74.5" x2="237.7" y2="98.5" stroke="#7d7fc0" stroke-width="0.7"/>
<path d="M239.4,106.3L242.0,107.1M246.5,108.1L249.4,108.5M253.8,109.8L256.1,111.0M260.3,113.0L263.1,114.5M267.0,117.0L269.4,118.9M272.9,121.9L274.8,123.7M278.1,123.6L278.7,123.1M285.8,109.0L286.2,107.0M288.2,103.0L289.1,101.8M292.3,98.6L293.6,97.6M297.7,96.2L299.0,96.2M303.5,96.9L305.6,97.6M309.2,100.1L310.1,101.4M312.4,105.3L312.8,106.4M313.3,110.8L313.0,112.7M311.3,116.9L310.7,117.9M307.4,121.0L306.0,121.8M301.7,123.4L299.8,123.8M295.3,123.5L294.4,123.2" stroke="#2e3192" stroke-width="0.45" fill="none"/>
<text x="237.2" y="102.4" fill="#2e3192" stroke="#2e3192" stroke-width="0.3" font-size="4.5" font-weight="bold" text-anchor="middle">C</text>
<text x="237.2" y="107.2" fill="#2e3192" stroke="#2e3192" stroke-width="0.3" font-size="4.5" font-weight="bold" text-anchor="middle">C</text>
<text x="244.2" y="109.4" fill="#2e3192" stroke="#2e3192" stroke-width="0.3" font-size="4.5" font-weight="bold" text-anchor="middle">A</text>
<text x="251.7" y="110.4" fill="#2e3192" stroke="#2e3192" stroke-width="0.3" font-size="4.5" font-weight="bold" text-anchor="middle">U</text>
<text x="258.2" y="113.6" fill="#2e3192" stroke="#2e3192" stroke-width="0.3" font-size="4.5" font-weight="bold" text-anchor="middle">A</text>
<text x="265.2" y="117.1" fill="#2e3192" stroke="#2e3192" stroke-width="0.3" font-size="4.5" font-weight="bold" text-anchor="middle">A</text>
<text x="271.2" y="122.0" fill="#2e3192" stroke="#2e3192" stroke-width="0.3" font-size="4.5" font-weight="bold" text-anchor="middle">C</text>
<text x="276.5" y="126.8" fill="#2e3192" stroke="#2e3192" stroke-width="0.3" font-size="4.5" font-weight="bold" text-anchor="middle">C</text>
<text x="280.3" y="123.1" fill="#2e3192" stroke="#2e3192" stroke-width="0.3" font-size="4.5" font-weight="bold" text-anchor="middle">C</text>
<text x="283.0" y="119.8" fill="#2e3192" stroke="#2e3192" stroke-width="0.3" font-size="4.5" font-weight="bold" text-anchor="middle">A</text>
<text x="286.2" y="117.1" fill="#2e3192" stroke="#2e3192" stroke-width="0.3" font-size="4.5" font-weight="bold" text-anchor="middle">G</text>
<text x="285.2" y="112.8" fill="#2e3192" stroke="#2e3192" stroke-width="0.3" font-size="4.5" font-weight="bold" text-anchor="middle">A</text>
<text x="286.8" y="106.4" fill="#2e3192" stroke="#2e3192" stroke-width="0.3" font-size="4.5" font-weight="bold" text-anchor="middle">G</text>
<text x="290.5" y="101.6" fill="#2e3192" stroke="#2e3192" stroke-width="0.3" font-size="4.5" font-weight="bold" text-anchor="middle">G</text>
<text x="295.4" y="97.8" fill="#2e3192" stroke="#2e3192" stroke-width="0.3" font-size="4.5" font-weight="bold" text-anchor="middle">U</text>
<text x="301.3" y="97.8" fill="#2e3192" stroke="#2e3192" stroke-width="0.3" font-size="4.5" font-weight="bold" text-anchor="middle">C</text>
<text x="307.8" y="99.9" fill="#2e3192" stroke="#2e3192" stroke-width="0.3" font-size="4.5" font-weight="bold" text-anchor="middle">G</text>
<text x="311.5" y="104.8" fill="#2e3192" stroke="#2e3192" stroke-width="0.3" font-size="4.5" font-weight="bold" text-anchor="middle">A</text>
<text x="313.7" y="110.1" fill="#2e3192" stroke="#2e3192" stroke-width="0.3" font-size="4.5" font-weight="bold" text-anchor="middle">U</text>
<text x="312.6" y="116.6" fill="#2e3192" stroke="#2e3192" stroke-width="0.3" font-size="4.5" font-weight="bold" text-anchor="middle">A</text>
<text x="309.4" y="121.4" fill="#2e3192" stroke="#2e3192" stroke-width="0.3" font-size="4.5" font-weight="bold" text-anchor="middle">G</text>
<text x="304.0" y="124.6" fill="#2e3192" stroke="#2e3192" stroke-width="0.3" font-size="4.5" font-weight="bold" text-anchor="middle">U</text>
<text x="297.5" y="125.8" fill="#2e3192" stroke="#2e3192" stroke-width="0.3" font-size="4.5" font-weight="bold" text-anchor="middle">A</text>
<text x="292.2" y="124.1" fill="#2e3192" stroke="#2e3192" stroke-width="0.3" font-size="4.5" font-weight="bold" text-anchor="middle">C</text>
<text x="288.9" y="127.4" fill="#2e3192" stroke="#2e3192" stroke-width="0.3" font-size="4.5" font-weight="bold" text-anchor="middle">U</text>
<text x="286.2" y="130.1" fill="#2e3192" stroke="#2e3192" stroke-width="0.3" font-size="4.5" font-weight="bold" text-anchor="middle">G</text>
<text x="282.5" y="133.3" fill="#2e3192" stroke="#2e3192" stroke-width="0.3" font-size="4.5" font-weight="bold" text-anchor="middle">G</text>
<line x1="280.5" y1="131.6" x2="246.0" y2="128.6" stroke="#7d7fc0" stroke-width="0.7"/>
<path d="M243.6,130.8L243.6,132.1M238.9,155.5L238.3,158.3" stroke="#2e3192" stroke-width="0.45" fill="none"/>
<text x="243.6" y="130.1" fill="#2e3192" stroke="#2e3192" stroke-width="0.3" font-size="4.5" font-weight="bold" text-anchor="middle">A</text>
<text x="243.6" y="136.0" fill="#2e3192" stroke="#2e3192" stroke-width="0.3" font-size="4.5" font-weight="bold" text-anchor="middle">U</text>
<text x="242.5" y="140.8" fill="#2e3192" stroke="#2e3192" stroke-width="0.3" font-size="4.5" font-weight="bold" text-anchor="middle">C</text>
<text x="241.5" y="145.6" fill="#2e3192" stroke="#2e3192" stroke-width="0.3" font-size="4.5" font-weight="bold" text-anchor="middle">C</text>
<text x="240.4" y="150.0" fill="#2e3192" stroke="#2e3192" stroke-width="0.3" font-size="4.5" font-weight="bold" text-anchor="middle">C</text>
<text x="239.3" y="154.8" fill="#2e3192" stroke="#2e3192" stroke-width="0.3" font-size="4.5" font-weight="bold" text-anchor="middle">C</text>
<text x="237.9" y="162.2" fill="#2e3192" stroke="#2e3192" stroke-width="0.3" font-size="4.5" font-weight="bold" text-anchor="middle">G</text>
<path d="M231.6,28.8L235.7,28.8M231.6,33.7L235.7,33.7M231.6,38.0L235.7,38.0M231.6,42.8L235.7,42.8M231.6,61.7L235.2,61.7M231.6,66.0L235.2,66.0M231.6,71.4L235.2,71.4" stroke="#2e3192" stroke-width="0.6" fill="none"/>
<path d="M231.6,30.4L235.7,30.4M231.6,35.3L235.7,35.3M231.6,39.6L235.7,39.6M231.6,44.4L235.7,44.4M231.6,63.3L235.2,63.3M231.6,67.6L235.2,67.6M231.6,73.0L235.2,73.0" stroke="#2e3192" stroke-width="0.6" fill="none"/>
<path d="M231.6,48.6L235.2,48.9M231.6,101.2L235.2,100.9M231.6,105.6L235.2,105.6" stroke="#2e3192" stroke-width="0.7" fill="none"/>
<path d="M236.2,136.1C238.6,137.9 239.5,133.0 241.9,134.8M235.1,140.5C237.4,142.4 238.5,137.6 240.8,139.5M234.0,145.4C236.3,147.3 237.4,142.4 239.8,144.3M232.9,150.1C235.3,151.9 236.2,147.0 238.7,148.8M232.3,155.0C234.7,156.8 235.3,151.9 237.7,153.6M231.3,159.0C233.2,161.0 234.2,156.2 236.2,158.2" stroke="#2e3192" stroke-width="0.95" fill="none"/>
<path d="M277.6,126.4C277.2,129.2 281.7,127.6 281.4,130.5M281.3,122.7C280.9,125.6 285.5,124.3 285.2,127.3M284.0,119.5C283.5,122.5 288.3,121.5 287.9,124.5M287.2,116.7C286.9,119.7 291.5,118.3 291.2,121.3" stroke="#2e3192" stroke-width="0.95" fill="none"/>
<line x1="227.5" y1="160.2" x2="209.5" y2="168.8" stroke="#7d7fc0" stroke-width="0.7"/>
<path d="M205.3,170.0L204.6,170.2M195.9,172.0L195.3,172.0M190.9,173.2L189.8,173.7" stroke="#2e3192" stroke-width="0.45" fill="none"/>
<text x="207.5" y="171.0" fill="#2e3192" stroke="#2e3192" stroke-width="0.3" font-size="4.5" font-weight="bold" text-anchor="middle">C</text>
<text x="202.4" y="172.4" fill="#2e3192" stroke="#2e3192" stroke-width="0.3" font-size="4.5" font-weight="bold" text-anchor="middle">C</text>
<text x="198.2" y="173.3" fill="#2e3192" stroke="#2e3192" stroke-width="0.3" font-size="4.5" font-weight="bold" text-anchor="middle">C</text>
<text x="193.0" y="173.9" fill="#2e3192" stroke="#2e3192" stroke-width="0.3" font-size="4.5" font-weight="bold" text-anchor="middle">U</text>
<text x="187.7" y="176.2" fill="#2e3192" stroke="#2e3192" stroke-width="0.3" font-size="4.5" font-weight="bold" text-anchor="middle">A</text>
<line x1="186.8" y1="172.2" x2="177.2" y2="140.5" stroke="#7d7fc0" stroke-width="0.7"/>
<path d="M161.7,126.3L160.9,124.3M158.2,120.9L156.4,119.8M152.2,118.1L150.7,117.7M146.2,118.0L145.0,118.5M140.9,120.5L139.2,121.5M136.6,125.0L136.2,126.2M135.5,130.7L135.5,132.9M136.7,137.2L137.3,138.1M140.3,141.5L141.7,142.4M145.8,144.2L147.3,144.6M151.9,144.8L152.9,144.6M156.9,142.9L158.4,141.6M172.3,147.2L171.2,150.8M169.9,155.2L168.9,158.8M168.2,163.3L168.1,166.2M168.2,170.8L168.3,173.2M168.7,177.8L168.8,179.7M169.6,184.2L170.2,186.6" stroke="#2e3192" stroke-width="0.45" fill="none"/>
<text x="176.7" y="139.2" fill="#2e3192" stroke="#2e3192" stroke-width="0.3" font-size="4.5" font-weight="bold" text-anchor="middle">G</text>
<text x="172.4" y="138.0" fill="#2e3192" stroke="#2e3192" stroke-width="0.3" font-size="4.5" font-weight="bold" text-anchor="middle">G</text>
<text x="167.5" y="136.8" fill="#2e3192" stroke="#2e3192" stroke-width="0.3" font-size="4.5" font-weight="bold" text-anchor="middle">U</text>
<text x="163.2" y="134.9" fill="#2e3192" stroke="#2e3192" stroke-width="0.3" font-size="4.5" font-weight="bold" text-anchor="middle">C</text>
<text x="162.5" y="130.0" fill="#2e3192" stroke="#2e3192" stroke-width="0.3" font-size="4.5" font-weight="bold" text-anchor="middle">A</text>
<text x="160.1" y="123.8" fill="#2e3192" stroke="#2e3192" stroke-width="0.3" font-size="4.5" font-weight="bold" text-anchor="middle">U</text>
<text x="154.5" y="120.1" fill="#2e3192" stroke="#2e3192" stroke-width="0.3" font-size="4.5" font-weight="bold" text-anchor="middle">G</text>
<text x="148.4" y="118.9" fill="#2e3192" stroke="#2e3192" stroke-width="0.3" font-size="4.5" font-weight="bold" text-anchor="middle">A</text>
<text x="142.8" y="120.8" fill="#2e3192" stroke="#2e3192" stroke-width="0.3" font-size="4.5" font-weight="bold" text-anchor="middle">U</text>
<text x="137.3" y="124.4" fill="#2e3192" stroke="#2e3192" stroke-width="0.3" font-size="4.5" font-weight="bold" text-anchor="middle">A</text>
<text x="135.5" y="130.0" fill="#2e3192" stroke="#2e3192" stroke-width="0.3" font-size="4.5" font-weight="bold" text-anchor="middle">G</text>
<text x="135.5" y="136.8" fill="#2e3192" stroke="#2e3192" stroke-width="0.3" font-size="4.5" font-weight="bold" text-anchor="middle">C</text>
<text x="138.5" y="141.7" fill="#2e3192" stroke="#2e3192" stroke-width="0.3" font-size="4.5" font-weight="bold" text-anchor="middle">U</text>
<text x="143.5" y="145.4" fill="#2e3192" stroke="#2e3192" stroke-width="0.3" font-size="4.5" font-weight="bold" text-anchor="middle">G</text>
<text x="149.6" y="146.6" fill="#2e3192" stroke="#2e3192" stroke-width="0.3" font-size="4.5" font-weight="bold" text-anchor="middle">G</text>
<text x="155.2" y="146.0" fill="#2e3192" stroke="#2e3192" stroke-width="0.3" font-size="4.5" font-weight="bold" text-anchor="middle">A</text>
<text x="160.1" y="141.7" fill="#2e3192" stroke="#2e3192" stroke-width="0.3" font-size="4.5" font-weight="bold" text-anchor="middle">G</text>
<text x="164.4" y="143.5" fill="#2e3192" stroke="#2e3192" stroke-width="0.3" font-size="4.5" font-weight="bold" text-anchor="middle">A</text>
<text x="168.7" y="145.4" fill="#2e3192" stroke="#2e3192" stroke-width="0.3" font-size="4.5" font-weight="bold" text-anchor="middle">C</text>
<text x="173.0" y="146.6" fill="#2e3192" stroke="#2e3192" stroke-width="0.3" font-size="4.5" font-weight="bold" text-anchor="middle">C</text>
<text x="170.5" y="154.6" fill="#2e3192" stroke="#2e3192" stroke-width="0.3" font-size="4.5" font-weight="bold" text-anchor="middle">C</text>
<text x="168.3" y="162.6" fill="#2e3192" stroke="#2e3192" stroke-width="0.3" font-size="4.5" font-weight="bold" text-anchor="middle">A</text>
<text x="168.0" y="170.1" fill="#2e3192" stroke="#2e3192" stroke-width="0.3" font-size="4.5" font-weight="bold" text-anchor="middle">A</text>
<text x="168.5" y="177.1" fill="#2e3192" stroke="#2e3192" stroke-width="0.3" font-size="4.5" font-weight="bold" text-anchor="middle">U</text>
<text x="169.0" y="183.6" fill="#2e3192" stroke="#2e3192" stroke-width="0.3" font-size="4.5" font-weight="bold" text-anchor="middle">A</text>
<text x="170.8" y="190.4" fill="#2e3192" stroke="#2e3192" stroke-width="0.3" font-size="4.5" font-weight="bold" text-anchor="middle">C</text>
<text x="166.2" y="192.3" fill="#2e3192" stroke="#2e3192" stroke-width="0.3" font-size="4.5" font-weight="bold" text-anchor="middle">C</text>
<path d="M166.7,137.0L165.2,140.1M171.5,138.2L169.6,142.0M175.8,139.4L173.9,143.2" stroke="#2e3192" stroke-width="0.7" fill="none"/>
<line x1="164.0" y1="191.6" x2="142.5" y2="200.9" stroke="#7d7fc0" stroke-width="0.7"/>
<path d="M128.7,205.5L126.0,205.5M122.1,207.1L119.8,209.4M116.2,212.2L115.5,212.6M103.2,216.8L102.6,217.2M98.8,217.0L97.8,216.1M93.8,213.9L92.7,213.6M88.2,212.8L86.3,212.8M81.8,213.4L79.7,214.1M76.0,216.4L75.3,217.3M72.8,221.1L72.0,222.7M71.0,227.1L71.0,228.1M71.7,232.6L72.3,234.6M74.6,238.5L75.9,239.8M79.6,242.4L81.9,243.3M86.3,244.2L87.2,244.2M91.6,243.3L93.9,242.4M97.8,240.1L98.8,239.2M101.1,235.6L101.5,234.1M102.5,229.7L102.9,228.0M124.1,219.1L126.0,219.2M129.9,217.7L132.2,215.4M144.6,211.6L145.2,212.2M149.0,214.3L152.8,215.1M157.1,214.8L162.2,212.8M165.5,210.0L167.6,206.5M168.9,202.2L168.9,200.3M171.3,197.7L172.2,197.5M183.1,189.2L183.8,188.6M187.4,185.8L188.8,185.0" stroke="#2e3192" stroke-width="0.45" fill="none"/>
<text x="140.3" y="203.4" fill="#2e3192" stroke="#2e3192" stroke-width="0.3" font-size="4.5" font-weight="bold" text-anchor="middle">C</text>
<text x="135.7" y="205.2" fill="#2e3192" stroke="#2e3192" stroke-width="0.3" font-size="4.5" font-weight="bold" text-anchor="middle">C</text>
<text x="131.0" y="207.1" fill="#2e3192" stroke="#2e3192" stroke-width="0.3" font-size="4.5" font-weight="bold" text-anchor="middle">C</text>
<text x="123.7" y="207.1" fill="#2e3192" stroke="#2e3192" stroke-width="0.3" font-size="4.5" font-weight="bold" text-anchor="middle">A</text>
<text x="118.2" y="212.6" fill="#2e3192" stroke="#2e3192" stroke-width="0.3" font-size="4.5" font-weight="bold" text-anchor="middle">A</text>
<text x="113.5" y="215.4" fill="#2e3192" stroke="#2e3192" stroke-width="0.3" font-size="4.5" font-weight="bold" text-anchor="middle">C</text>
<text x="109.0" y="216.3" fill="#2e3192" stroke="#2e3192" stroke-width="0.3" font-size="4.5" font-weight="bold" text-anchor="middle">C</text>
<text x="105.2" y="217.2" fill="#2e3192" stroke="#2e3192" stroke-width="0.3" font-size="4.5" font-weight="bold" text-anchor="middle">C</text>
<text x="100.6" y="220.0" fill="#2e3192" stroke="#2e3192" stroke-width="0.3" font-size="4.5" font-weight="bold" text-anchor="middle">U</text>
<text x="96.0" y="216.3" fill="#2e3192" stroke="#2e3192" stroke-width="0.3" font-size="4.5" font-weight="bold" text-anchor="middle">C</text>
<text x="90.5" y="214.4" fill="#2e3192" stroke="#2e3192" stroke-width="0.3" font-size="4.5" font-weight="bold" text-anchor="middle">G</text>
<text x="84.0" y="214.4" fill="#2e3192" stroke="#2e3192" stroke-width="0.3" font-size="4.5" font-weight="bold" text-anchor="middle">G</text>
<text x="77.5" y="216.3" fill="#2e3192" stroke="#2e3192" stroke-width="0.3" font-size="4.5" font-weight="bold" text-anchor="middle">A</text>
<text x="73.8" y="220.6" fill="#2e3192" stroke="#2e3192" stroke-width="0.3" font-size="4.5" font-weight="bold" text-anchor="middle">U</text>
<text x="71.0" y="226.4" fill="#2e3192" stroke="#2e3192" stroke-width="0.3" font-size="4.5" font-weight="bold" text-anchor="middle">A</text>
<text x="71.0" y="232.0" fill="#2e3192" stroke="#2e3192" stroke-width="0.3" font-size="4.5" font-weight="bold" text-anchor="middle">C</text>
<text x="73.0" y="238.4" fill="#2e3192" stroke="#2e3192" stroke-width="0.3" font-size="4.5" font-weight="bold" text-anchor="middle">C</text>
<text x="77.5" y="243.1" fill="#2e3192" stroke="#2e3192" stroke-width="0.3" font-size="4.5" font-weight="bold" text-anchor="middle">A</text>
<text x="84.0" y="245.8" fill="#2e3192" stroke="#2e3192" stroke-width="0.3" font-size="4.5" font-weight="bold" text-anchor="middle">G</text>
<text x="89.5" y="245.8" fill="#2e3192" stroke="#2e3192" stroke-width="0.3" font-size="4.5" font-weight="bold" text-anchor="middle">A</text>
<text x="96.0" y="243.1" fill="#2e3192" stroke="#2e3192" stroke-width="0.3" font-size="4.5" font-weight="bold" text-anchor="middle">U</text>
<text x="100.6" y="239.4" fill="#2e3192" stroke="#2e3192" stroke-width="0.3" font-size="4.5" font-weight="bold" text-anchor="middle">U</text>
<text x="102.0" y="233.5" fill="#2e3192" stroke="#2e3192" stroke-width="0.3" font-size="4.5" font-weight="bold" text-anchor="middle">A</text>
<text x="103.4" y="227.4" fill="#2e3192" stroke="#2e3192" stroke-width="0.3" font-size="4.5" font-weight="bold" text-anchor="middle">G</text>
<text x="108.0" y="225.6" fill="#2e3192" stroke="#2e3192" stroke-width="0.3" font-size="4.5" font-weight="bold" text-anchor="middle">G</text>
<text x="112.6" y="223.7" fill="#2e3192" stroke="#2e3192" stroke-width="0.3" font-size="4.5" font-weight="bold" text-anchor="middle">G</text>
<text x="117.2" y="221.8" fill="#2e3192" stroke="#2e3192" stroke-width="0.3" font-size="4.5" font-weight="bold" text-anchor="middle">G</text>
<text x="121.8" y="220.6" fill="#2e3192" stroke="#2e3192" stroke-width="0.3" font-size="4.5" font-weight="bold" text-anchor="middle">U</text>
<text x="128.3" y="220.9" fill="#2e3192" stroke="#2e3192" stroke-width="0.3" font-size="4.5" font-weight="bold" text-anchor="middle">A</text>
<text x="133.8" y="215.4" fill="#2e3192" stroke="#2e3192" stroke-width="0.3" font-size="4.5" font-weight="bold" text-anchor="middle">G</text>
<text x="138.5" y="213.6" fill="#2e3192" stroke="#2e3192" stroke-width="0.3" font-size="4.5" font-weight="bold" text-anchor="middle">G</text>
<text x="143.0" y="211.6" fill="#2e3192" stroke="#2e3192" stroke-width="0.3" font-size="4.5" font-weight="bold" text-anchor="middle">G</text>
<text x="146.8" y="215.4" fill="#2e3192" stroke="#2e3192" stroke-width="0.3" font-size="4.5" font-weight="bold" text-anchor="middle">A</text>
<text x="155.0" y="217.2" fill="#2e3192" stroke="#2e3192" stroke-width="0.3" font-size="4.5" font-weight="bold" text-anchor="middle">G</text>
<text x="164.3" y="213.6" fill="#2e3192" stroke="#2e3192" stroke-width="0.3" font-size="4.5" font-weight="bold" text-anchor="middle">A</text>
<text x="168.8" y="206.1" fill="#2e3192" stroke="#2e3192" stroke-width="0.3" font-size="4.5" font-weight="bold" text-anchor="middle">A</text>
<text x="169.0" y="199.6" fill="#2e3192" stroke="#2e3192" stroke-width="0.3" font-size="4.5" font-weight="bold" text-anchor="middle">G</text>
<text x="174.5" y="198.8" fill="#2e3192" stroke="#2e3192" stroke-width="0.3" font-size="4.5" font-weight="bold" text-anchor="middle">G</text>
<text x="177.5" y="194.9" fill="#2e3192" stroke="#2e3192" stroke-width="0.3" font-size="4.5" font-weight="bold" text-anchor="middle">A</text>
<text x="181.5" y="192.4" fill="#2e3192" stroke="#2e3192" stroke-width="0.3" font-size="4.5" font-weight="bold" text-anchor="middle">G</text>
<text x="185.4" y="188.6" fill="#2e3192" stroke="#2e3192" stroke-width="0.3" font-size="4.5" font-weight="bold" text-anchor="middle">A</text>
<text x="190.8" y="185.4" fill="#2e3192" stroke="#2e3192" stroke-width="0.3" font-size="4.5" font-weight="bold" text-anchor="middle">G</text>
<text x="194.8" y="182.2" fill="#2e3192" stroke="#2e3192" stroke-width="0.3" font-size="4.5" font-weight="bold" text-anchor="middle">A</text>
<text x="199.2" y="181.6" fill="#2e3192" stroke="#2e3192" stroke-width="0.3" font-size="4.5" font-weight="bold" text-anchor="middle">G</text>
<text x="203.8" y="181.1" fill="#2e3192" stroke="#2e3192" stroke-width="0.3" font-size="4.5" font-weight="bold" text-anchor="middle">G</text>
<text x="208.4" y="180.2" fill="#2e3192" stroke="#2e3192" stroke-width="0.3" font-size="4.5" font-weight="bold" text-anchor="middle">G</text>
<path d="M101.3,220.3L102.7,223.9M105.8,217.5L107.4,222.1M109.9,216.5L111.7,220.3M114.5,215.5L116.2,218.5M131.6,207.4L133.2,211.9M136.3,205.5L137.9,210.1M140.9,203.7L142.4,208.1M166.9,192.6L168.3,196.1M171.6,190.6L173.7,195.4M198.4,173.7L199.0,178.0M202.7,172.8L203.5,177.5M207.7,171.4L208.2,176.6" stroke="#2e3192" stroke-width="0.7" fill="none"/>
<path d="M209.3,180.7L210.3,182.9M212.8,186.7L214.6,188.5M218.4,190.9L221.0,191.8" stroke="#6d6e71" stroke-width="0.45" fill="none"/>
<text x="211.2" y="186.6" fill="#6d6e71" stroke="#6d6e71" stroke-width="0.3" font-size="4.5" font-weight="bold" text-anchor="middle">A</text>
<text x="216.2" y="191.8" fill="#6d6e71" stroke="#6d6e71" stroke-width="0.3" font-size="4.5" font-weight="bold" text-anchor="middle">A</text>
<text x="223.2" y="194.1" fill="#6d6e71" stroke="#6d6e71" stroke-width="0.3" font-size="4.5" font-weight="bold" text-anchor="middle">A</text>
<line x1="225.5" y1="192.2" x2="231.5" y2="190.9" stroke="#6d6e71" stroke-width="0.45"/>
<text x="233.8" y="192.3" fill="#6d6e71" stroke="#6d6e71" stroke-width="0.2" font-size="4.6" font-weight="bold" text-anchor="middle">A</text>
<text x="237.3" y="196.1" fill="#6d6e71" stroke="#6d6e71" stroke-width="0.2" font-size="4.6" font-weight="bold" text-anchor="middle">C</text>
<text x="240.7" y="200.0" fill="#6d6e71" stroke="#6d6e71" stroke-width="0.2" font-size="4.6" font-weight="bold" text-anchor="middle">C</text>
<text x="244.2" y="203.9" fill="#6d6e71" stroke="#6d6e71" stroke-width="0.2" font-size="4.6" font-weight="bold" text-anchor="middle">U</text>
<text x="247.6" y="207.8" fill="#6d6e71" stroke="#6d6e71" stroke-width="0.2" font-size="4.6" font-weight="bold" text-anchor="middle">C</text>
<text x="251.1" y="211.7" fill="#6d6e71" stroke="#6d6e71" stroke-width="0.2" font-size="4.6" font-weight="bold" text-anchor="middle">U</text>
<text x="254.6" y="215.6" fill="#6d6e71" stroke="#6d6e71" stroke-width="0.2" font-size="4.6" font-weight="bold" text-anchor="middle">C</text>
<text x="258.0" y="219.5" fill="#6d6e71" stroke="#6d6e71" stroke-width="0.2" font-size="4.6" font-weight="bold" text-anchor="middle">C</text>
<text x="261.5" y="223.4" fill="#6d6e71" stroke="#6d6e71" stroke-width="0.2" font-size="4.6" font-weight="bold" text-anchor="middle">U</text>
<text x="265.0" y="227.3" fill="#6d6e71" stroke="#6d6e71" stroke-width="0.2" font-size="4.6" font-weight="bold" text-anchor="middle">C</text>
<text x="268.4" y="231.2" fill="#6d6e71" stroke="#6d6e71" stroke-width="0.2" font-size="4.6" font-weight="bold" text-anchor="middle">U</text>
<text x="271.9" y="235.1" fill="#6d6e71" stroke="#6d6e71" stroke-width="0.2" font-size="4.6" font-weight="bold" text-anchor="middle">G</text>
<text x="275.3" y="239.0" fill="#6d6e71" stroke="#6d6e71" stroke-width="0.2" font-size="4.6" font-weight="bold" text-anchor="middle">G</text>
<text x="278.8" y="242.9" fill="#6d6e71" stroke="#6d6e71" stroke-width="0.2" font-size="4.6" font-weight="bold" text-anchor="middle">G</text>
<text x="240.2" y="184.9" fill="#6d6e71" stroke="#6d6e71" stroke-width="0.2" font-size="4.6" font-weight="bold" text-anchor="middle">G</text>
<text x="243.6" y="188.8" fill="#6d6e71" stroke="#6d6e71" stroke-width="0.2" font-size="4.6" font-weight="bold" text-anchor="middle">G</text>
<text x="247.1" y="192.8" fill="#6d6e71" stroke="#6d6e71" stroke-width="0.2" font-size="4.6" font-weight="bold" text-anchor="middle">A</text>
<text x="250.5" y="196.7" fill="#6d6e71" stroke="#6d6e71" stroke-width="0.2" font-size="4.6" font-weight="bold" text-anchor="middle">G</text>
<text x="253.9" y="200.7" fill="#6d6e71" stroke="#6d6e71" stroke-width="0.2" font-size="4.6" font-weight="bold" text-anchor="middle">G</text>
<text x="257.4" y="204.7" fill="#6d6e71" stroke="#6d6e71" stroke-width="0.2" font-size="4.6" font-weight="bold" text-anchor="middle">G</text>
<text x="260.8" y="208.6" fill="#6d6e71" stroke="#6d6e71" stroke-width="0.2" font-size="4.6" font-weight="bold" text-anchor="middle">A</text>
<text x="264.2" y="212.6" fill="#6d6e71" stroke="#6d6e71" stroke-width="0.2" font-size="4.6" font-weight="bold" text-anchor="middle">G</text>
<text x="267.6" y="216.5" fill="#6d6e71" stroke="#6d6e71" stroke-width="0.2" font-size="4.6" font-weight="bold" text-anchor="middle">A</text>
<text x="271.1" y="220.5" fill="#6d6e71" stroke="#6d6e71" stroke-width="0.2" font-size="4.6" font-weight="bold" text-anchor="middle">G</text>
<text x="274.5" y="224.5" fill="#6d6e71" stroke="#6d6e71" stroke-width="0.2" font-size="4.6" font-weight="bold" text-anchor="middle">G</text>
<text x="277.9" y="228.4" fill="#6d6e71" stroke="#6d6e71" stroke-width="0.2" font-size="4.6" font-weight="bold" text-anchor="middle">C</text>
<text x="281.4" y="232.4" fill="#6d6e71" stroke="#6d6e71" stroke-width="0.2" font-size="4.6" font-weight="bold" text-anchor="middle">A</text>
<text x="284.8" y="236.4" fill="#6d6e71" stroke="#6d6e71" stroke-width="0.2" font-size="4.6" font-weight="bold" text-anchor="middle">G</text>
<path d="M234.9,189.3C237.8,189.0 236.2,184.8 239.1,184.5M238.4,193.2C241.3,192.9 239.6,188.8 242.5,188.4M241.8,197.1C244.7,196.9 243.0,192.7 245.9,192.4M245.3,201.0C248.2,200.8 246.5,196.6 249.4,196.4M248.8,204.9C251.6,204.7 249.9,200.6 252.8,200.3M252.2,208.8C255.0,208.6 253.4,204.5 256.2,204.3M255.7,212.7C258.5,212.5 256.8,208.4 259.7,208.2M259.2,216.6C261.9,216.5 260.3,212.4 263.1,212.2M262.6,220.5C265.4,220.4 263.7,216.3 266.5,216.2M266.1,224.4C268.8,224.3 267.1,220.2 269.9,220.1M269.6,228.3C272.3,228.2 270.6,224.2 273.4,224.1M273.0,232.2C275.7,232.1 274.0,228.1 276.8,228.0M276.5,236.1C279.2,236.1 277.5,232.0 280.2,232.0M280.0,240.0C282.6,240.0 280.9,236.0 283.6,235.9" stroke="#555" stroke-width="1.0" fill="none"/>
<path d="M238.6,162.8L239.5,165.3M241.0,169.7L242.2,172.8M242.3,177.2L240.9,181.0" stroke="#6d6e71" stroke-width="0.45" fill="none"/>
<text x="240.2" y="169.1" fill="#6d6e71" stroke="#6d6e71" stroke-width="0.3" font-size="4.5" font-weight="bold" text-anchor="middle">A</text>
<text x="243.0" y="176.6" fill="#6d6e71" stroke="#6d6e71" stroke-width="0.3" font-size="4.5" font-weight="bold" text-anchor="middle">A</text>
<line x1="285.6" y1="237.5" x2="297.5" y2="258.6" stroke="#6d6e71" stroke-width="0.55"/>
<text x="299.6" y="263.9" fill="#ed1c24" stroke="#ed1c24" stroke-width="0.3" font-size="4.5" font-weight="bold" text-anchor="middle">G</text>
<text x="303.0" y="267.0" fill="#ed1c24" stroke="#ed1c24" stroke-width="0.3" font-size="4.5" font-weight="bold" text-anchor="middle">G</text>
<text x="306.2" y="270.4" fill="#ed1c24" stroke="#ed1c24" stroke-width="0.3" font-size="4.5" font-weight="bold" text-anchor="middle">G</text>
<text x="309.2" y="273.1" fill="#ed1c24" stroke="#ed1c24" stroke-width="0.3" font-size="4.5" font-weight="bold" text-anchor="middle">A</text>
<text x="312.7" y="276.2" fill="#ed1c24" stroke="#ed1c24" stroke-width="0.3" font-size="4.5" font-weight="bold" text-anchor="middle">G</text>
<text x="316.2" y="279.6" fill="#ed1c24" stroke="#ed1c24" stroke-width="0.3" font-size="4.5" font-weight="bold" text-anchor="middle">A</text>
<text x="319.2" y="283.1" fill="#ed1c24" stroke="#ed1c24" stroke-width="0.3" font-size="4.5" font-weight="bold" text-anchor="middle">A</text>
<text x="291.5" y="268.9" fill="#ed1c24" stroke="#ed1c24" stroke-width="0.3" font-size="4.5" font-weight="bold" text-anchor="middle">G</text>
<text x="297.0" y="272.8" fill="#ed1c24" stroke="#ed1c24" stroke-width="0.3" font-size="4.5" font-weight="bold" text-anchor="middle">C</text>
<text x="300.0" y="276.6" fill="#ed1c24" stroke="#ed1c24" stroke-width="0.3" font-size="4.5" font-weight="bold" text-anchor="middle">C</text>
<text x="303.0" y="279.6" fill="#ed1c24" stroke="#ed1c24" stroke-width="0.3" font-size="4.5" font-weight="bold" text-anchor="middle">U</text>
<text x="307.0" y="283.1" fill="#ed1c24" stroke="#ed1c24" stroke-width="0.3" font-size="4.5" font-weight="bold" text-anchor="middle">C</text>
<text x="310.8" y="286.6" fill="#ed1c24" stroke="#ed1c24" stroke-width="0.3" font-size="4.5" font-weight="bold" text-anchor="middle">U</text>
<text x="311.5" y="291.6" fill="#ed1c24" stroke="#ed1c24" stroke-width="0.3" font-size="4.5" font-weight="bold" text-anchor="middle">U</text>
<text x="289.8" y="268.5" fill="#ed1c24" stroke="#ed1c24" stroke-width="0.5" font-size="5.2" font-weight="bold" text-anchor="middle">G</text>
<text x="292.2" y="270.3" fill="#ed1c24" stroke="#ed1c24" stroke-width="0.5" font-size="5.2" font-weight="bold" text-anchor="middle">G</text>
<path d="M301.9,266.4C299.3,266.2 300.8,270.3 298.1,270.2M305.1,269.9C302.4,269.8 303.9,274.0 301.1,273.9M308.2,272.6C305.4,272.6 306.9,276.8 304.0,276.9M311.7,275.8C309.0,276.0 310.8,280.1 308.0,280.3M315.3,279.2C312.5,279.5 314.5,283.5 311.7,283.8M318.2,282.6C314.8,283.3 315.9,288.1 312.5,288.9" stroke="#ed1c24" stroke-width="0.95" fill="none"/>
<path d="M325.9,277.6L329.4,276.3M333.7,274.8L338.6,273.6M343.1,273.5L346.2,274.1M350.7,275.4L354.8,276.9M358.7,279.2L361.3,281.5M364.7,284.5L367.5,287.0M370.1,290.6L372.1,294.9M373.4,299.3L374.2,303.1M374.6,307.7L374.6,311.5M373.7,315.9L371.7,320.2" stroke="#ed1c24" stroke-width="0.45" fill="none"/>
<text x="323.8" y="280.1" fill="#ed1c24" stroke="#ed1c24" stroke-width="0.3" font-size="4.5" font-weight="bold" text-anchor="middle">U</text>
<text x="331.5" y="277.0" fill="#ed1c24" stroke="#ed1c24" stroke-width="0.3" font-size="4.5" font-weight="bold" text-anchor="middle">A</text>
<text x="340.8" y="274.6" fill="#ed1c24" stroke="#ed1c24" stroke-width="0.3" font-size="4.5" font-weight="bold" text-anchor="middle">G</text>
<text x="348.5" y="276.2" fill="#ed1c24" stroke="#ed1c24" stroke-width="0.3" font-size="4.5" font-weight="bold" text-anchor="middle">U</text>
<text x="357.0" y="279.3" fill="#ed1c24" stroke="#ed1c24" stroke-width="0.3" font-size="4.5" font-weight="bold" text-anchor="middle">C</text>
<text x="363.0" y="284.6" fill="#ed1c24" stroke="#ed1c24" stroke-width="0.3" font-size="4.5" font-weight="bold" text-anchor="middle">A</text>
<text x="369.2" y="290.1" fill="#ed1c24" stroke="#ed1c24" stroke-width="0.3" font-size="4.5" font-weight="bold" text-anchor="middle">A</text>
<text x="373.0" y="298.6" fill="#ed1c24" stroke="#ed1c24" stroke-width="0.3" font-size="4.5" font-weight="bold" text-anchor="middle">C</text>
<text x="374.6" y="307.0" fill="#ed1c24" stroke="#ed1c24" stroke-width="0.3" font-size="4.5" font-weight="bold" text-anchor="middle">A</text>
<text x="374.6" y="315.4" fill="#ed1c24" stroke="#ed1c24" stroke-width="0.3" font-size="4.5" font-weight="bold" text-anchor="middle">A</text>
<text x="370.8" y="323.9" fill="#ed1c24" stroke="#ed1c24" stroke-width="0.3" font-size="4.5" font-weight="bold" text-anchor="middle">A</text>
<path d="M321.1,280.2L321.9,279.8" stroke="#ed1c24" stroke-width="0.45" fill="none"/>
<path d="M357.1,336.4L355.1,337.5M350.8,339.1L346.8,340.2M342.3,340.6L338.5,340.2M334.0,339.3L330.7,338.4M326.5,336.6L323.5,334.9M319.8,332.3L317.1,330.0M314.1,326.6L312.1,323.4M309.9,319.4L308.6,315.9M307.3,311.5L306.6,307.7M306.9,303.2L307.8,299.9M309.3,295.6L310.7,292.1" stroke="#ed1c24" stroke-width="0.45" fill="none"/>
<text x="359.2" y="337.0" fill="#ed1c24" stroke="#ed1c24" stroke-width="0.3" font-size="4.5" font-weight="bold" text-anchor="middle">C</text>
<text x="353.0" y="340.1" fill="#ed1c24" stroke="#ed1c24" stroke-width="0.3" font-size="4.5" font-weight="bold" text-anchor="middle">U</text>
<text x="344.6" y="342.4" fill="#ed1c24" stroke="#ed1c24" stroke-width="0.3" font-size="4.5" font-weight="bold" text-anchor="middle">U</text>
<text x="336.2" y="341.6" fill="#ed1c24" stroke="#ed1c24" stroke-width="0.3" font-size="4.5" font-weight="bold" text-anchor="middle">U</text>
<text x="328.5" y="339.3" fill="#ed1c24" stroke="#ed1c24" stroke-width="0.3" font-size="4.5" font-weight="bold" text-anchor="middle">C</text>
<text x="321.5" y="335.4" fill="#ed1c24" stroke="#ed1c24" stroke-width="0.3" font-size="4.5" font-weight="bold" text-anchor="middle">C</text>
<text x="315.4" y="330.1" fill="#ed1c24" stroke="#ed1c24" stroke-width="0.3" font-size="4.5" font-weight="bold" text-anchor="middle">C</text>
<text x="310.8" y="323.1" fill="#ed1c24" stroke="#ed1c24" stroke-width="0.3" font-size="4.5" font-weight="bold" text-anchor="middle">U</text>
<text x="307.7" y="315.4" fill="#ed1c24" stroke="#ed1c24" stroke-width="0.3" font-size="4.5" font-weight="bold" text-anchor="middle">U</text>
<text x="306.2" y="307.0" fill="#ed1c24" stroke="#ed1c24" stroke-width="0.3" font-size="4.5" font-weight="bold" text-anchor="middle">C</text>
<text x="308.5" y="299.3" fill="#ed1c24" stroke="#ed1c24" stroke-width="0.3" font-size="4.5" font-weight="bold" text-anchor="middle">C</text>
<text x="311.5" y="291.6" fill="#ed1c24" stroke="#ed1c24" stroke-width="0.3" font-size="4.5" font-weight="bold" text-anchor="middle">U</text>
<text x="373.9" y="327.6" fill="#ed1c24" stroke="#ed1c24" stroke-width="0.3" font-size="4.5" font-weight="bold" text-anchor="middle">G</text>
<text x="377.1" y="331.2" fill="#ed1c24" stroke="#ed1c24" stroke-width="0.3" font-size="4.5" font-weight="bold" text-anchor="middle">U</text>
<text x="380.2" y="334.8" fill="#ed1c24" stroke="#ed1c24" stroke-width="0.3" font-size="4.5" font-weight="bold" text-anchor="middle">C</text>
<text x="383.4" y="338.5" fill="#ed1c24" stroke="#ed1c24" stroke-width="0.3" font-size="4.5" font-weight="bold" text-anchor="middle">G</text>
<text x="386.5" y="342.1" fill="#ed1c24" stroke="#ed1c24" stroke-width="0.3" font-size="4.5" font-weight="bold" text-anchor="middle">U</text>
<text x="362.5" y="332.1" fill="#ed1c24" stroke="#ed1c24" stroke-width="0.3" font-size="4.5" font-weight="bold" text-anchor="middle">C</text>
<text x="365.9" y="335.5" fill="#ed1c24" stroke="#ed1c24" stroke-width="0.3" font-size="4.5" font-weight="bold" text-anchor="middle">A</text>
<text x="369.3" y="338.9" fill="#ed1c24" stroke="#ed1c24" stroke-width="0.3" font-size="4.5" font-weight="bold" text-anchor="middle">G</text>
<text x="372.7" y="342.3" fill="#ed1c24" stroke="#ed1c24" stroke-width="0.3" font-size="4.5" font-weight="bold" text-anchor="middle">C</text>
<text x="376.1" y="345.7" fill="#ed1c24" stroke="#ed1c24" stroke-width="0.3" font-size="4.5" font-weight="bold" text-anchor="middle">G</text>
<text x="379.5" y="349.1" fill="#ed1c24" stroke="#ed1c24" stroke-width="0.3" font-size="4.5" font-weight="bold" text-anchor="middle">G</text>
<text x="387.8" y="348.1" fill="#ed1c24" stroke="#ed1c24" stroke-width="0.3" font-size="4.5" font-weight="bold" text-anchor="middle">G</text>
<text x="384.0" y="351.6" fill="#ed1c24" stroke="#ed1c24" stroke-width="0.3" font-size="4.5" font-weight="bold" text-anchor="middle">G</text>
<path d="M372.9,327.0C369.5,327.5 370.4,332.3 367.0,332.8M376.0,330.6C372.7,331.1 373.7,335.8 370.4,336.2M379.2,334.3C376.0,334.6 377.0,339.2 373.8,339.6M382.3,337.9C379.2,338.2 380.3,342.7 377.2,343.0M385.4,341.6C382.4,341.8 383.6,346.2 380.6,346.4" stroke="#ed1c24" stroke-width="0.95" fill="none"/>
<path d="M361.2,332.4L360.5,333.5" stroke="#ed1c24" stroke-width="0.45" fill="none"/></svg></body></html>
